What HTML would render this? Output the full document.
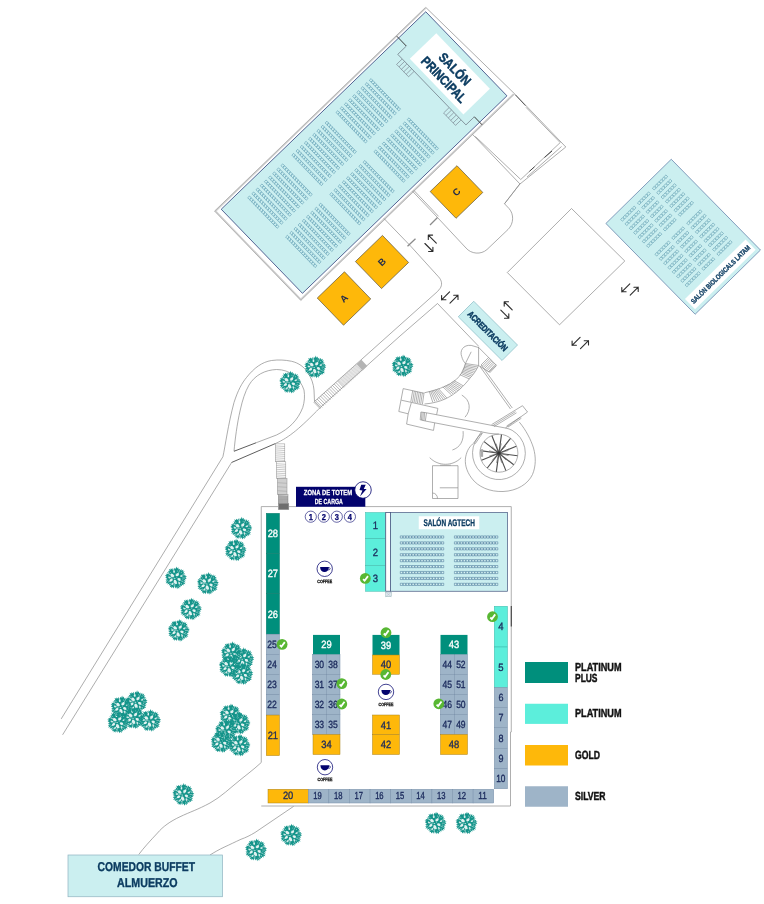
<!DOCTYPE html>
<html><head><meta charset="utf-8"><title>Plano</title>
<style>
html,body{margin:0;padding:0;background:#fff;}
body{width:764px;height:904px;overflow:hidden;font-family:"Liberation Sans",sans-serif;}
svg{display:block;font-family:"Liberation Sans",sans-serif;will-change:transform;text-rendering:geometricPrecision;}
</style></head><body>
<svg width="764" height="904" viewBox="0 0 764 904">
<rect width="764" height="904" fill="#fff"/>
<defs>
<g id="tree"><path d="M10.96,0.55 L8.91,1.23 L10.20,2.33 L7.89,2.54 L9.91,4.18 L8.04,4.25 L9.63,6.22 L7.46,5.80 L8.01,7.43 L5.93,6.56 L6.19,8.18 L4.67,7.43 L4.74,9.24 L3.53,8.67 L3.31,10.72 L1.99,9.26 L1.40,11.17 L0.33,8.87 L-0.53,10.51 L-1.13,8.21 L-2.41,10.53 L-2.86,8.86 L-4.35,10.32 L-4.53,8.58 L-5.92,9.17 L-5.53,7.11 L-7.06,7.61 L-6.18,5.59 L-8.57,6.49 L-7.84,4.92 L-10.14,5.20 L-8.72,3.55 L-10.38,3.20 L-8.58,1.84 L-10.43,1.31 L-8.39,0.31 L-10.70,-0.54 L-9.17,-1.27 L-10.90,-2.49 L-8.97,-2.89 L-10.11,-4.26 L-7.69,-4.07 L-8.85,-5.72 L-6.78,-5.27 L-7.74,-7.18 L-6.05,-6.69 L-6.90,-9.11 L-5.17,-8.24 L-4.96,-9.68 L-3.40,-8.36 L-3.10,-10.04 L-1.76,-8.20 L-1.30,-10.36 L-0.34,-9.08 L0.58,-11.53 L1.30,-9.40 L2.45,-10.71 L2.71,-8.40 L3.95,-9.36 L4.10,-7.76 L5.87,-9.08 L5.63,-7.24 L7.71,-8.31 L6.93,-6.27 L8.79,-6.65 L7.34,-4.61 L9.32,-4.78 L8.04,-3.27 L10.02,-3.09 L9.14,-1.97 L11.12,-1.39 L9.51,-0.35Z" fill="#14948a"/><path d="M-1.61,-1.24 L-3.02,-0.89 L-4.89,-1.37 L-5.13,-3.00 L-4.77,-4.38 L-2.92,-4.05 L-1.85,-2.68Z" fill="#fff" opacity="0.88"/><path d="M-6.39,2.69 L-5.69,1.54 L-4.55,0.61 L-3.33,1.07 L-2.99,1.96 L-3.65,3.09 L-5.43,3.69Z" fill="#fff" opacity="0.88"/><path d="M-0.18,6.04 L-1.35,5.60 L-2.23,3.95 L-1.78,1.85 L-0.16,1.96 L0.87,3.47 L1.33,5.68Z" fill="#fff" opacity="0.88"/><path d="M4.57,1.99 L3.95,3.12 L2.20,2.23 L1.48,1.10 L1.92,0.21 L3.24,0.00 L5.01,0.79Z" fill="#fff" opacity="0.88"/><path d="M2.48,-5.03 L3.27,-4.11 L2.61,-2.34 L1.21,-1.68 L0.09,-2.13 L0.49,-3.72 L1.37,-4.81Z" fill="#fff" opacity="0.88"/><path d="M6.72,-2.41 L6.76,-1.60 L5.61,-1.10 L4.65,-1.28 L4.22,-1.93 L5.02,-2.70 L6.12,-2.86Z" fill="#fff" opacity="0.8"/><path d="M-7.69,-0.60 L-7.09,-1.33 L-5.95,-1.32 L-4.99,-0.98 L-5.01,-0.23 L-5.86,0.38 L-7.10,0.14Z" fill="#fff" opacity="0.8"/><path d="M4.12,5.93 L3.31,6.29 L2.67,5.10 L2.40,4.12 L2.94,3.48 L3.85,4.27 L4.47,5.21Z" fill="#fff" opacity="0.8"/><path d="M-1.89,-5.14 L-2.57,-5.39 L-2.56,-6.71 L-1.85,-7.55 L-1.01,-7.60 L-0.91,-6.35 L-1.15,-5.13Z" fill="#fff" opacity="0.8"/><path d="M-3.88,7.08 L-4.18,6.30 L-3.72,5.27 L-2.87,4.51 L-2.12,4.87 L-2.39,6.04 L-3.05,7.00Z" fill="#fff" opacity="0.8"/><path d="M-0.31,0.61 L-0.55,1.03 L-1.28,0.88 L-1.85,0.37 L-1.59,-0.15 L-0.89,-0.10 L-0.32,0.18Z" fill="#fff" opacity="0.7"/><path d="M1.23,-0.34 L0.81,-0.52 L0.46,-0.80 L0.53,-1.21 L0.82,-1.36 L1.14,-1.16 L1.46,-0.73Z" fill="#fff" opacity="0.6"/><path d="M3.71,1.97L7.95,4.23" stroke="#fff" stroke-width="0.6" opacity="0.7" fill="none"/><path d="M-4.94,2.63L-8.12,4.32" stroke="#fff" stroke-width="0.6" opacity="0.7" fill="none"/><path d="M-1.45,-5.41L-2.33,-8.69" stroke="#fff" stroke-width="0.6" opacity="0.7" fill="none"/><path d="M5.44,-2.54L8.52,-3.97" stroke="#fff" stroke-width="0.6" opacity="0.7" fill="none"/><path d="M-0.81,5.74L-1.28,9.11" stroke="#fff" stroke-width="0.6" opacity="0.7" fill="none"/><path d="M-5.09,-3.18L-7.80,-4.88" stroke="#fff" stroke-width="0.6" opacity="0.7" fill="none"/><path d="M2.35,-4.41L4.32,-8.12" stroke="#fff" stroke-width="0.6" opacity="0.7" fill="none"/><path d="M2.63,4.94L4.32,8.12" stroke="#fff" stroke-width="0.6" opacity="0.7" fill="none"/><path d="M-4.68,-2.70L-7.79,-4.50" stroke="#fff" stroke-width="0.6" opacity="0.7" fill="none"/><path d="M-3.73,5.32L-5.39,7.70" stroke="#fff" stroke-width="0.6" opacity="0.7" fill="none"/><path d="M6.40,0.00L9.40,0.00" stroke="#fff" stroke-width="0.6" opacity="0.7" fill="none"/><path d="M0.17,-1.99L0.40,-4.58" stroke="#fff" stroke-width="0.6" opacity="0.7" fill="none"/><path d="M-2.00,0.00L-4.80,0.00" stroke="#fff" stroke-width="0.6" opacity="0.7" fill="none"/><path d="M7.61,2.02 L7.35,2.25 L6.81,2.21 L6.28,1.89 L6.61,1.61 L7.01,1.45 L7.57,1.67Z" fill="#fff" opacity="0.6"/><path d="M6.19,6.16 L5.69,6.20 L5.12,5.79 L5.08,5.30 L5.29,5.03 L5.76,5.20 L6.24,5.67Z" fill="#fff" opacity="0.6"/><path d="M2.44,9.04 L2.05,8.62 L1.85,8.17 L1.92,7.72 L2.22,7.64 L2.57,7.95 L2.66,8.56Z" fill="#fff" opacity="0.6"/><path d="M-2.04,7.65 L-2.20,7.31 L-2.22,6.81 L-1.89,6.44 L-1.53,6.47 L-1.34,7.00 L-1.65,7.61Z" fill="#fff" opacity="0.6"/><path d="M-6.07,6.10 L-6.15,5.68 L-5.77,5.16 L-5.33,5.15 L-4.89,5.21 L-5.12,5.80 L-5.67,6.24Z" fill="#fff" opacity="0.6"/><path d="M-8.98,2.42 L-8.69,2.02 L-8.16,1.80 L-7.76,1.94 L-7.51,2.23 L-8.01,2.49 L-8.47,2.55Z" fill="#fff" opacity="0.6"/><path d="M-7.63,-2.03 L-7.34,-2.23 L-6.82,-2.20 L-6.55,-1.89 L-6.63,-1.62 L-7.02,-1.52 L-7.46,-1.71Z" fill="#fff" opacity="0.6"/><path d="M-6.06,-6.04 L-5.66,-5.99 L-5.12,-5.79 L-4.99,-5.24 L-5.33,-5.10 L-5.75,-5.23 L-6.10,-5.65Z" fill="#fff" opacity="0.6"/><path d="M-2.38,-8.84 L-2.05,-8.62 L-1.70,-8.16 L-1.79,-7.51 L-2.23,-7.56 L-2.57,-7.95 L-2.56,-8.47Z" fill="#fff" opacity="0.6"/><path d="M2.02,-7.60 L2.27,-7.37 L2.19,-6.83 L1.89,-6.29 L1.60,-6.59 L1.54,-7.02 L1.63,-7.67Z" fill="#fff" opacity="0.6"/><path d="M6.08,-6.10 L6.02,-5.66 L5.76,-5.19 L5.33,-5.16 L4.99,-5.27 L5.08,-5.82 L5.67,-6.24Z" fill="#fff" opacity="0.6"/><path d="M8.95,-2.42 L8.65,-2.04 L8.17,-1.81 L7.74,-1.93 L7.46,-2.23 L7.95,-2.58 L8.59,-2.71Z" fill="#fff" opacity="0.6"/></g>
<g id="chk"><circle r="5.4" fill="#58b733"/><path d="M-2.2,0.8 L-0.7,2.3 L2.7,-2.3" fill="none" stroke="#fff" stroke-width="1.8" stroke-linecap="butt" stroke-linejoin="miter"/></g>
<g id="cof"><circle r="7.7" fill="#fff" stroke="#03036d" stroke-width="0.75"/><path d="M-4.6,-1.9 H4.2 C4.2,1.6 2.2,3.2 -0.2,3.2 C-2.6,3.2 -4.6,1.6 -4.6,-1.9Z" fill="#03036d"/><path d="M4,-1.2 C6,-1.4 6,1.2 3.4,1.2" fill="none" stroke="#03036d" stroke-width="0.7"/><text y="13.9" font-size="4.6" font-weight="bold" fill="#000" stroke="#000" stroke-width="0.25" text-anchor="middle" textLength="14.8" lengthAdjust="spacingAndGlyphs">COFFEE</text></g>
<g id="arr" fill="none" stroke="#2c2c2c" stroke-width="1.1" stroke-linecap="round" stroke-linejoin="round"><path d="M-0.2,-5.7 L-8.2,2.3 M-8.2,-2 V2.3 H-3.9"/><path d="M0.2,5.7 L8.2,-2.3 M8.2,2 V-2.3 H3.9"/></g>
</defs>
<path d="M222.9,456.75 L61.2,718.9 M230.8,463.8 L62.6,734.8" fill="none" stroke="#8a8a8a" stroke-width="0.7"/>
<path d="M222.9,456.75 C225.3,446 228,425 234,402.5 C238,390 242,383 246.5,377.5 C254,368 262,362 271.5,360.5 C279,359.5 285,360 291.5,361.25 C299,363 304,367 307.75,372.5 C311.5,378 313.5,384 314,390 L314.5,401.5" fill="none" stroke="#8a8a8a" stroke-width="0.7"/>
<path d="M234,451.25 C235,440 237,424 240.25,410 C242.5,400 245,392 249,385 C255,375 265,370 276.5,369.5 C290,369.5 300,378 304,390 C305,396 304.5,402 302.75,407.5 C298,420 289,429 276.5,435" fill="none" stroke="#8a8a8a" stroke-width="0.7"/>
<path d="M234,451.25 L256,442.8" fill="none" stroke="#333" stroke-width="0.8"/>
<path d="M256,442.8 L276.5,435" fill="none" stroke="#8a8a8a" stroke-width="0.7"/>
<path d="M231.5,462.5 L275.5,443.5" fill="none" stroke="#333" stroke-width="0.8"/>
<path d="M230.8,463.8 L231.5,462.5 M275.5,443.5 C290,437 300,428 320.25,407.5" fill="none" stroke="#8a8a8a" stroke-width="0.7"/>
<path d="M314.5,401.5 L400,325 L437.5,291.5 M320.25,407.5 L400,336" fill="none" stroke="#8a8a8a" stroke-width="0.7"/>
<path d="M314.5,401.5 L320.25,407.5" fill="none" stroke="#8a8a8a" stroke-width="0.7"/>
<path d="M313.6,402.0 L320.5,409.0 M315.3,400.5 L322.2,407.5 M317.0,399.0 L323.8,405.9 M318.7,397.5 L325.5,404.4 M320.4,396.0 L327.2,402.9 M322.1,394.4 L328.9,401.3 M323.8,392.9 L330.5,399.8 M325.6,391.4 L332.2,398.3 M327.3,389.9 L333.9,396.7 M329.0,388.4 L335.5,395.2 M330.7,386.9 L337.2,393.7 M332.4,385.4 L338.9,392.1 M334.1,383.9 L340.6,390.6 M335.8,382.4 L342.2,389.1 M337.5,380.9 L343.9,387.6" fill="none" stroke="#777" stroke-width="0.5"/>
<path d="M338.2,380.2 L344.6,386.9 M338.9,379.6 L345.3,386.3 M339.6,379.0 L346.0,385.6 M340.3,378.3 L346.7,385.0 M341.0,377.7 L347.4,384.4 M341.7,377.1 L348.1,383.7 M342.5,376.5 L348.8,383.1 M343.2,375.8 L349.4,382.5 M343.9,375.2 L350.1,381.8 M344.6,374.6 L350.8,381.2 M345.3,374.0 L351.5,380.6 M346.0,373.3 L352.2,379.9 M346.7,372.7 L352.9,379.3 M347.4,372.1 L353.6,378.7 M348.1,371.4 L354.3,378.0 M348.8,370.8 L355.0,377.4 M349.5,370.2 L355.7,376.7 M350.2,369.6 L356.4,376.1 M351.0,368.9 L357.1,375.5 M351.7,368.3 L357.8,374.8 M352.4,367.7 L358.5,374.2 M353.1,367.1 L359.2,373.6 M353.8,366.4 L359.8,372.9 M354.5,365.8 L360.5,372.3 M355.2,365.2 L361.2,371.7 M355.9,364.6 L361.9,371.0 M356.6,363.9 L362.6,370.4" fill="none" stroke="#999" stroke-width="0.4"/>
<path d="M356.6,363.9 L361.4,359.7 L367.3,366.1 L362.6,370.4Z" fill="#b4b4b4"/>
<rect x="275.4" y="443.9" width="9.4" height="17.9" fill="#fff" stroke="#8c8c8c" stroke-width="0.5"/>
<path d="M275.4,445.9 L284.8,446.5 M275.4,447.9 L284.8,448.5 M275.4,449.9 L284.8,450.5 M275.4,451.9 L284.8,452.5 M275.4,453.8 L284.8,454.4 M275.4,455.8 L284.8,456.4 M275.4,457.8 L284.8,458.4 M275.4,459.8 L284.8,460.4" fill="none" stroke="#888" stroke-width="0.45"/>
<rect x="276.4" y="461.8" width="9.4" height="16.9" fill="#fff" stroke="#8c8c8c" stroke-width="0.5"/>
<path d="M276.4,463.7 L285.8,464.3 M276.4,465.6 L285.8,466.2 M276.4,467.4 L285.8,468.0 M276.4,469.3 L285.8,469.9 M276.4,471.2 L285.8,471.8 M276.4,473.1 L285.8,473.7 M276.4,474.9 L285.8,475.5 M276.4,476.8 L285.8,477.4" fill="none" stroke="#888" stroke-width="0.45"/>
<rect x="277.4" y="478.7" width="9.6" height="16.0" fill="#cfcfcf" stroke="#8c8c8c" stroke-width="0.5"/>
<path d="M277.4,482.7 L287.0,483.3 M277.4,486.7 L287.0,487.3 M277.4,490.7 L287.0,491.3" fill="none" stroke="#999" stroke-width="0.45"/>
<rect x="278.4" y="494.7" width="9.6" height="8.9" fill="#d8d8d8" stroke="#8c8c8c" stroke-width="0.5"/>
<path d="M278.4,495.7 L288.0,496.3 M278.4,496.7 L288.0,497.3 M278.4,497.7 L288.0,498.3 M278.4,498.7 L288.0,499.3 M278.4,499.6 L288.0,500.2 M278.4,500.6 L288.0,501.2 M278.4,501.6 L288.0,502.2 M278.4,502.6 L288.0,503.2" fill="none" stroke="#666" stroke-width="0.45"/>
<rect x="278.4" y="503.6" width="10.4" height="6.0" fill="#6e6e6e" stroke="#8c8c8c" stroke-width="0.5"/>
<path d="M261.25,762.5 L255,768 C250,772 246,775.5 241,779.25 C230,788 221,797 210,803 C198,809.5 190,812 180,816.75 C170,821.5 163,826.5 157.5,833 C150,841 144,847.5 138.75,854.5" fill="none" stroke="#8a8a8a" stroke-width="0.7"/>
<path d="M293.75,806.25 L255,832.5 C250,835.5 246,837.5 241,839.25 C235,842 230,844.5 225,846.75 C219,849.5 214,852.5 210,855" fill="none" stroke="#8a8a8a" stroke-width="0.7"/>
<g transform="translate(425.75,11.75) rotate(46)">
<path d="M-2.6,-2.6 V289.7 H120.1 V-6" fill="none" stroke="#cfcfcf" stroke-width="1.5"/>
<path d="M-3.3,-3.3 V290.4 H120.9 V-6.9" fill="none" stroke="#888" stroke-width="0.5"/>
<rect x="0" y="0" width="116.9" height="284.3" fill="#cbeff0" stroke="#2f3f7a" stroke-width="0.75"/>
<path d="M11.2,38 V49.7 H109.3 V38" fill="none" stroke="#445" stroke-width="0.5"/>
<path d="M-2.5,37.8 H11.2 M109.3,38 H120.5" fill="none" stroke="#333" stroke-width="0.9"/>
<path d="M17.6,50 V57.5 H34.8 V50 M21.04,50 V57.5 M24.48,50 V57.5 M27.92,50 V57.5 M31.36,50 V57.5" fill="none" stroke="#556" stroke-width="0.45"/>
<path d="M85.2,50 V57.5 H102.4 V50 M88.64,50 V57.5 M92.08,50 V57.5 M95.52,50 V57.5 M98.96,50 V57.5" fill="none" stroke="#556" stroke-width="0.45"/>
<rect x="22.8" y="7.4" width="77.2" height="36.8" fill="#fff"/>
<text x="61.4" y="23.4" font-size="13.2" font-weight="bold" fill="#0c3c61" text-anchor="middle" textLength="39.5" lengthAdjust="spacingAndGlyphs" stroke="#0c3c61" stroke-width="0.5">SALÓN</text>
<text x="61.4" y="38.6" font-size="13.2" font-weight="bold" fill="#0c3c61" text-anchor="middle" textLength="58.5" lengthAdjust="spacingAndGlyphs" stroke="#0c3c61" stroke-width="0.5">PRINCIPAL</text>
<path d="M10.10,85.75h2.4v2.5h-2.4zM12.96,85.75h2.4v2.5h-2.4zM15.82,85.75h2.4v2.5h-2.4zM18.68,85.75h2.4v2.5h-2.4zM21.54,85.75h2.4v2.5h-2.4zM24.40,85.75h2.4v2.5h-2.4zM27.26,85.75h2.4v2.5h-2.4zM30.12,85.75h2.4v2.5h-2.4zM32.98,85.75h2.4v2.5h-2.4zM35.84,85.75h2.4v2.5h-2.4zM38.70,85.75h2.4v2.5h-2.4zM41.56,85.75h2.4v2.5h-2.4zM44.42,85.75h2.4v2.5h-2.4zM47.28,85.75h2.4v2.5h-2.4zM50.14,85.75h2.4v2.5h-2.4zM64.70,85.75h2.4v2.5h-2.4zM67.56,85.75h2.4v2.5h-2.4zM70.42,85.75h2.4v2.5h-2.4zM73.28,85.75h2.4v2.5h-2.4zM76.14,85.75h2.4v2.5h-2.4zM79.00,85.75h2.4v2.5h-2.4zM81.86,85.75h2.4v2.5h-2.4zM84.72,85.75h2.4v2.5h-2.4zM87.58,85.75h2.4v2.5h-2.4zM90.44,85.75h2.4v2.5h-2.4zM93.30,85.75h2.4v2.5h-2.4zM96.16,85.75h2.4v2.5h-2.4zM99.02,85.75h2.4v2.5h-2.4zM101.88,85.75h2.4v2.5h-2.4zM104.74,85.75h2.4v2.5h-2.4zM10.10,91.53h2.4v2.5h-2.4zM12.96,91.53h2.4v2.5h-2.4zM15.82,91.53h2.4v2.5h-2.4zM18.68,91.53h2.4v2.5h-2.4zM21.54,91.53h2.4v2.5h-2.4zM24.40,91.53h2.4v2.5h-2.4zM27.26,91.53h2.4v2.5h-2.4zM30.12,91.53h2.4v2.5h-2.4zM32.98,91.53h2.4v2.5h-2.4zM35.84,91.53h2.4v2.5h-2.4zM38.70,91.53h2.4v2.5h-2.4zM41.56,91.53h2.4v2.5h-2.4zM44.42,91.53h2.4v2.5h-2.4zM47.28,91.53h2.4v2.5h-2.4zM50.14,91.53h2.4v2.5h-2.4zM64.70,91.53h2.4v2.5h-2.4zM67.56,91.53h2.4v2.5h-2.4zM70.42,91.53h2.4v2.5h-2.4zM73.28,91.53h2.4v2.5h-2.4zM76.14,91.53h2.4v2.5h-2.4zM79.00,91.53h2.4v2.5h-2.4zM81.86,91.53h2.4v2.5h-2.4zM84.72,91.53h2.4v2.5h-2.4zM87.58,91.53h2.4v2.5h-2.4zM90.44,91.53h2.4v2.5h-2.4zM93.30,91.53h2.4v2.5h-2.4zM96.16,91.53h2.4v2.5h-2.4zM99.02,91.53h2.4v2.5h-2.4zM101.88,91.53h2.4v2.5h-2.4zM104.74,91.53h2.4v2.5h-2.4zM10.10,97.31h2.4v2.5h-2.4zM12.96,97.31h2.4v2.5h-2.4zM15.82,97.31h2.4v2.5h-2.4zM18.68,97.31h2.4v2.5h-2.4zM21.54,97.31h2.4v2.5h-2.4zM24.40,97.31h2.4v2.5h-2.4zM27.26,97.31h2.4v2.5h-2.4zM30.12,97.31h2.4v2.5h-2.4zM32.98,97.31h2.4v2.5h-2.4zM35.84,97.31h2.4v2.5h-2.4zM38.70,97.31h2.4v2.5h-2.4zM41.56,97.31h2.4v2.5h-2.4zM44.42,97.31h2.4v2.5h-2.4zM47.28,97.31h2.4v2.5h-2.4zM50.14,97.31h2.4v2.5h-2.4zM64.70,97.31h2.4v2.5h-2.4zM67.56,97.31h2.4v2.5h-2.4zM70.42,97.31h2.4v2.5h-2.4zM73.28,97.31h2.4v2.5h-2.4zM76.14,97.31h2.4v2.5h-2.4zM79.00,97.31h2.4v2.5h-2.4zM81.86,97.31h2.4v2.5h-2.4zM84.72,97.31h2.4v2.5h-2.4zM87.58,97.31h2.4v2.5h-2.4zM90.44,97.31h2.4v2.5h-2.4zM93.30,97.31h2.4v2.5h-2.4zM96.16,97.31h2.4v2.5h-2.4zM99.02,97.31h2.4v2.5h-2.4zM101.88,97.31h2.4v2.5h-2.4zM104.74,97.31h2.4v2.5h-2.4zM10.10,103.09h2.4v2.5h-2.4zM12.96,103.09h2.4v2.5h-2.4zM15.82,103.09h2.4v2.5h-2.4zM18.68,103.09h2.4v2.5h-2.4zM21.54,103.09h2.4v2.5h-2.4zM24.40,103.09h2.4v2.5h-2.4zM27.26,103.09h2.4v2.5h-2.4zM30.12,103.09h2.4v2.5h-2.4zM32.98,103.09h2.4v2.5h-2.4zM35.84,103.09h2.4v2.5h-2.4zM38.70,103.09h2.4v2.5h-2.4zM41.56,103.09h2.4v2.5h-2.4zM44.42,103.09h2.4v2.5h-2.4zM47.28,103.09h2.4v2.5h-2.4zM50.14,103.09h2.4v2.5h-2.4zM64.70,103.09h2.4v2.5h-2.4zM67.56,103.09h2.4v2.5h-2.4zM70.42,103.09h2.4v2.5h-2.4zM73.28,103.09h2.4v2.5h-2.4zM76.14,103.09h2.4v2.5h-2.4zM79.00,103.09h2.4v2.5h-2.4zM81.86,103.09h2.4v2.5h-2.4zM84.72,103.09h2.4v2.5h-2.4zM87.58,103.09h2.4v2.5h-2.4zM90.44,103.09h2.4v2.5h-2.4zM93.30,103.09h2.4v2.5h-2.4zM96.16,103.09h2.4v2.5h-2.4zM99.02,103.09h2.4v2.5h-2.4zM101.88,103.09h2.4v2.5h-2.4zM104.74,103.09h2.4v2.5h-2.4zM10.10,108.87h2.4v2.5h-2.4zM12.96,108.87h2.4v2.5h-2.4zM15.82,108.87h2.4v2.5h-2.4zM18.68,108.87h2.4v2.5h-2.4zM21.54,108.87h2.4v2.5h-2.4zM24.40,108.87h2.4v2.5h-2.4zM27.26,108.87h2.4v2.5h-2.4zM30.12,108.87h2.4v2.5h-2.4zM32.98,108.87h2.4v2.5h-2.4zM35.84,108.87h2.4v2.5h-2.4zM38.70,108.87h2.4v2.5h-2.4zM41.56,108.87h2.4v2.5h-2.4zM44.42,108.87h2.4v2.5h-2.4zM47.28,108.87h2.4v2.5h-2.4zM50.14,108.87h2.4v2.5h-2.4zM64.70,108.87h2.4v2.5h-2.4zM67.56,108.87h2.4v2.5h-2.4zM70.42,108.87h2.4v2.5h-2.4zM73.28,108.87h2.4v2.5h-2.4zM76.14,108.87h2.4v2.5h-2.4zM79.00,108.87h2.4v2.5h-2.4zM81.86,108.87h2.4v2.5h-2.4zM84.72,108.87h2.4v2.5h-2.4zM87.58,108.87h2.4v2.5h-2.4zM90.44,108.87h2.4v2.5h-2.4zM93.30,108.87h2.4v2.5h-2.4zM96.16,108.87h2.4v2.5h-2.4zM99.02,108.87h2.4v2.5h-2.4zM101.88,108.87h2.4v2.5h-2.4zM104.74,108.87h2.4v2.5h-2.4zM10.10,114.65h2.4v2.5h-2.4zM12.96,114.65h2.4v2.5h-2.4zM15.82,114.65h2.4v2.5h-2.4zM18.68,114.65h2.4v2.5h-2.4zM21.54,114.65h2.4v2.5h-2.4zM24.40,114.65h2.4v2.5h-2.4zM27.26,114.65h2.4v2.5h-2.4zM30.12,114.65h2.4v2.5h-2.4zM32.98,114.65h2.4v2.5h-2.4zM35.84,114.65h2.4v2.5h-2.4zM38.70,114.65h2.4v2.5h-2.4zM41.56,114.65h2.4v2.5h-2.4zM44.42,114.65h2.4v2.5h-2.4zM47.28,114.65h2.4v2.5h-2.4zM50.14,114.65h2.4v2.5h-2.4zM64.70,114.65h2.4v2.5h-2.4zM67.56,114.65h2.4v2.5h-2.4zM70.42,114.65h2.4v2.5h-2.4zM73.28,114.65h2.4v2.5h-2.4zM76.14,114.65h2.4v2.5h-2.4zM79.00,114.65h2.4v2.5h-2.4zM81.86,114.65h2.4v2.5h-2.4zM84.72,114.65h2.4v2.5h-2.4zM87.58,114.65h2.4v2.5h-2.4zM90.44,114.65h2.4v2.5h-2.4zM93.30,114.65h2.4v2.5h-2.4zM96.16,114.65h2.4v2.5h-2.4zM99.02,114.65h2.4v2.5h-2.4zM101.88,114.65h2.4v2.5h-2.4zM104.74,114.65h2.4v2.5h-2.4zM10.10,120.43h2.4v2.5h-2.4zM12.96,120.43h2.4v2.5h-2.4zM15.82,120.43h2.4v2.5h-2.4zM18.68,120.43h2.4v2.5h-2.4zM21.54,120.43h2.4v2.5h-2.4zM24.40,120.43h2.4v2.5h-2.4zM27.26,120.43h2.4v2.5h-2.4zM30.12,120.43h2.4v2.5h-2.4zM32.98,120.43h2.4v2.5h-2.4zM35.84,120.43h2.4v2.5h-2.4zM38.70,120.43h2.4v2.5h-2.4zM41.56,120.43h2.4v2.5h-2.4zM44.42,120.43h2.4v2.5h-2.4zM47.28,120.43h2.4v2.5h-2.4zM50.14,120.43h2.4v2.5h-2.4zM64.70,120.43h2.4v2.5h-2.4zM67.56,120.43h2.4v2.5h-2.4zM70.42,120.43h2.4v2.5h-2.4zM73.28,120.43h2.4v2.5h-2.4zM76.14,120.43h2.4v2.5h-2.4zM79.00,120.43h2.4v2.5h-2.4zM81.86,120.43h2.4v2.5h-2.4zM84.72,120.43h2.4v2.5h-2.4zM87.58,120.43h2.4v2.5h-2.4zM90.44,120.43h2.4v2.5h-2.4zM93.30,120.43h2.4v2.5h-2.4zM96.16,120.43h2.4v2.5h-2.4zM99.02,120.43h2.4v2.5h-2.4zM101.88,120.43h2.4v2.5h-2.4zM104.74,120.43h2.4v2.5h-2.4zM10.10,126.21h2.4v2.5h-2.4zM12.96,126.21h2.4v2.5h-2.4zM15.82,126.21h2.4v2.5h-2.4zM18.68,126.21h2.4v2.5h-2.4zM21.54,126.21h2.4v2.5h-2.4zM24.40,126.21h2.4v2.5h-2.4zM27.26,126.21h2.4v2.5h-2.4zM30.12,126.21h2.4v2.5h-2.4zM32.98,126.21h2.4v2.5h-2.4zM35.84,126.21h2.4v2.5h-2.4zM38.70,126.21h2.4v2.5h-2.4zM41.56,126.21h2.4v2.5h-2.4zM44.42,126.21h2.4v2.5h-2.4zM47.28,126.21h2.4v2.5h-2.4zM50.14,126.21h2.4v2.5h-2.4zM64.70,126.21h2.4v2.5h-2.4zM67.56,126.21h2.4v2.5h-2.4zM70.42,126.21h2.4v2.5h-2.4zM73.28,126.21h2.4v2.5h-2.4zM76.14,126.21h2.4v2.5h-2.4zM79.00,126.21h2.4v2.5h-2.4zM81.86,126.21h2.4v2.5h-2.4zM84.72,126.21h2.4v2.5h-2.4zM87.58,126.21h2.4v2.5h-2.4zM90.44,126.21h2.4v2.5h-2.4zM93.30,126.21h2.4v2.5h-2.4zM96.16,126.21h2.4v2.5h-2.4zM99.02,126.21h2.4v2.5h-2.4zM101.88,126.21h2.4v2.5h-2.4zM104.74,126.21h2.4v2.5h-2.4zM10.10,131.99h2.4v2.5h-2.4zM12.96,131.99h2.4v2.5h-2.4zM15.82,131.99h2.4v2.5h-2.4zM18.68,131.99h2.4v2.5h-2.4zM21.54,131.99h2.4v2.5h-2.4zM24.40,131.99h2.4v2.5h-2.4zM27.26,131.99h2.4v2.5h-2.4zM30.12,131.99h2.4v2.5h-2.4zM32.98,131.99h2.4v2.5h-2.4zM35.84,131.99h2.4v2.5h-2.4zM38.70,131.99h2.4v2.5h-2.4zM41.56,131.99h2.4v2.5h-2.4zM44.42,131.99h2.4v2.5h-2.4zM47.28,131.99h2.4v2.5h-2.4zM50.14,131.99h2.4v2.5h-2.4zM64.70,131.99h2.4v2.5h-2.4zM67.56,131.99h2.4v2.5h-2.4zM70.42,131.99h2.4v2.5h-2.4zM73.28,131.99h2.4v2.5h-2.4zM76.14,131.99h2.4v2.5h-2.4zM79.00,131.99h2.4v2.5h-2.4zM81.86,131.99h2.4v2.5h-2.4zM84.72,131.99h2.4v2.5h-2.4zM87.58,131.99h2.4v2.5h-2.4zM90.44,131.99h2.4v2.5h-2.4zM93.30,131.99h2.4v2.5h-2.4zM96.16,131.99h2.4v2.5h-2.4zM99.02,131.99h2.4v2.5h-2.4zM101.88,131.99h2.4v2.5h-2.4zM104.74,131.99h2.4v2.5h-2.4zM10.10,147.15h2.4v2.5h-2.4zM12.96,147.15h2.4v2.5h-2.4zM15.82,147.15h2.4v2.5h-2.4zM18.68,147.15h2.4v2.5h-2.4zM21.54,147.15h2.4v2.5h-2.4zM24.40,147.15h2.4v2.5h-2.4zM27.26,147.15h2.4v2.5h-2.4zM30.12,147.15h2.4v2.5h-2.4zM32.98,147.15h2.4v2.5h-2.4zM35.84,147.15h2.4v2.5h-2.4zM38.70,147.15h2.4v2.5h-2.4zM41.56,147.15h2.4v2.5h-2.4zM44.42,147.15h2.4v2.5h-2.4zM47.28,147.15h2.4v2.5h-2.4zM50.14,147.15h2.4v2.5h-2.4zM64.70,147.15h2.4v2.5h-2.4zM67.56,147.15h2.4v2.5h-2.4zM70.42,147.15h2.4v2.5h-2.4zM73.28,147.15h2.4v2.5h-2.4zM76.14,147.15h2.4v2.5h-2.4zM79.00,147.15h2.4v2.5h-2.4zM81.86,147.15h2.4v2.5h-2.4zM84.72,147.15h2.4v2.5h-2.4zM87.58,147.15h2.4v2.5h-2.4zM90.44,147.15h2.4v2.5h-2.4zM93.30,147.15h2.4v2.5h-2.4zM96.16,147.15h2.4v2.5h-2.4zM99.02,147.15h2.4v2.5h-2.4zM101.88,147.15h2.4v2.5h-2.4zM104.74,147.15h2.4v2.5h-2.4zM10.10,152.93h2.4v2.5h-2.4zM12.96,152.93h2.4v2.5h-2.4zM15.82,152.93h2.4v2.5h-2.4zM18.68,152.93h2.4v2.5h-2.4zM21.54,152.93h2.4v2.5h-2.4zM24.40,152.93h2.4v2.5h-2.4zM27.26,152.93h2.4v2.5h-2.4zM30.12,152.93h2.4v2.5h-2.4zM32.98,152.93h2.4v2.5h-2.4zM35.84,152.93h2.4v2.5h-2.4zM38.70,152.93h2.4v2.5h-2.4zM41.56,152.93h2.4v2.5h-2.4zM44.42,152.93h2.4v2.5h-2.4zM47.28,152.93h2.4v2.5h-2.4zM50.14,152.93h2.4v2.5h-2.4zM64.70,152.93h2.4v2.5h-2.4zM67.56,152.93h2.4v2.5h-2.4zM70.42,152.93h2.4v2.5h-2.4zM73.28,152.93h2.4v2.5h-2.4zM76.14,152.93h2.4v2.5h-2.4zM79.00,152.93h2.4v2.5h-2.4zM81.86,152.93h2.4v2.5h-2.4zM84.72,152.93h2.4v2.5h-2.4zM87.58,152.93h2.4v2.5h-2.4zM90.44,152.93h2.4v2.5h-2.4zM93.30,152.93h2.4v2.5h-2.4zM96.16,152.93h2.4v2.5h-2.4zM99.02,152.93h2.4v2.5h-2.4zM101.88,152.93h2.4v2.5h-2.4zM104.74,152.93h2.4v2.5h-2.4zM10.10,158.71h2.4v2.5h-2.4zM12.96,158.71h2.4v2.5h-2.4zM15.82,158.71h2.4v2.5h-2.4zM18.68,158.71h2.4v2.5h-2.4zM21.54,158.71h2.4v2.5h-2.4zM24.40,158.71h2.4v2.5h-2.4zM27.26,158.71h2.4v2.5h-2.4zM30.12,158.71h2.4v2.5h-2.4zM32.98,158.71h2.4v2.5h-2.4zM35.84,158.71h2.4v2.5h-2.4zM38.70,158.71h2.4v2.5h-2.4zM41.56,158.71h2.4v2.5h-2.4zM44.42,158.71h2.4v2.5h-2.4zM47.28,158.71h2.4v2.5h-2.4zM50.14,158.71h2.4v2.5h-2.4zM64.70,158.71h2.4v2.5h-2.4zM67.56,158.71h2.4v2.5h-2.4zM70.42,158.71h2.4v2.5h-2.4zM73.28,158.71h2.4v2.5h-2.4zM76.14,158.71h2.4v2.5h-2.4zM79.00,158.71h2.4v2.5h-2.4zM81.86,158.71h2.4v2.5h-2.4zM84.72,158.71h2.4v2.5h-2.4zM87.58,158.71h2.4v2.5h-2.4zM90.44,158.71h2.4v2.5h-2.4zM93.30,158.71h2.4v2.5h-2.4zM96.16,158.71h2.4v2.5h-2.4zM99.02,158.71h2.4v2.5h-2.4zM101.88,158.71h2.4v2.5h-2.4zM104.74,158.71h2.4v2.5h-2.4zM10.10,164.49h2.4v2.5h-2.4zM12.96,164.49h2.4v2.5h-2.4zM15.82,164.49h2.4v2.5h-2.4zM18.68,164.49h2.4v2.5h-2.4zM21.54,164.49h2.4v2.5h-2.4zM24.40,164.49h2.4v2.5h-2.4zM27.26,164.49h2.4v2.5h-2.4zM30.12,164.49h2.4v2.5h-2.4zM32.98,164.49h2.4v2.5h-2.4zM35.84,164.49h2.4v2.5h-2.4zM38.70,164.49h2.4v2.5h-2.4zM41.56,164.49h2.4v2.5h-2.4zM44.42,164.49h2.4v2.5h-2.4zM47.28,164.49h2.4v2.5h-2.4zM50.14,164.49h2.4v2.5h-2.4zM64.70,164.49h2.4v2.5h-2.4zM67.56,164.49h2.4v2.5h-2.4zM70.42,164.49h2.4v2.5h-2.4zM73.28,164.49h2.4v2.5h-2.4zM76.14,164.49h2.4v2.5h-2.4zM79.00,164.49h2.4v2.5h-2.4zM81.86,164.49h2.4v2.5h-2.4zM84.72,164.49h2.4v2.5h-2.4zM87.58,164.49h2.4v2.5h-2.4zM90.44,164.49h2.4v2.5h-2.4zM93.30,164.49h2.4v2.5h-2.4zM96.16,164.49h2.4v2.5h-2.4zM99.02,164.49h2.4v2.5h-2.4zM101.88,164.49h2.4v2.5h-2.4zM104.74,164.49h2.4v2.5h-2.4zM10.10,170.27h2.4v2.5h-2.4zM12.96,170.27h2.4v2.5h-2.4zM15.82,170.27h2.4v2.5h-2.4zM18.68,170.27h2.4v2.5h-2.4zM21.54,170.27h2.4v2.5h-2.4zM24.40,170.27h2.4v2.5h-2.4zM27.26,170.27h2.4v2.5h-2.4zM30.12,170.27h2.4v2.5h-2.4zM32.98,170.27h2.4v2.5h-2.4zM35.84,170.27h2.4v2.5h-2.4zM38.70,170.27h2.4v2.5h-2.4zM41.56,170.27h2.4v2.5h-2.4zM44.42,170.27h2.4v2.5h-2.4zM47.28,170.27h2.4v2.5h-2.4zM50.14,170.27h2.4v2.5h-2.4zM64.70,170.27h2.4v2.5h-2.4zM67.56,170.27h2.4v2.5h-2.4zM70.42,170.27h2.4v2.5h-2.4zM73.28,170.27h2.4v2.5h-2.4zM76.14,170.27h2.4v2.5h-2.4zM79.00,170.27h2.4v2.5h-2.4zM81.86,170.27h2.4v2.5h-2.4zM84.72,170.27h2.4v2.5h-2.4zM87.58,170.27h2.4v2.5h-2.4zM90.44,170.27h2.4v2.5h-2.4zM93.30,170.27h2.4v2.5h-2.4zM96.16,170.27h2.4v2.5h-2.4zM99.02,170.27h2.4v2.5h-2.4zM101.88,170.27h2.4v2.5h-2.4zM104.74,170.27h2.4v2.5h-2.4zM10.10,176.05h2.4v2.5h-2.4zM12.96,176.05h2.4v2.5h-2.4zM15.82,176.05h2.4v2.5h-2.4zM18.68,176.05h2.4v2.5h-2.4zM21.54,176.05h2.4v2.5h-2.4zM24.40,176.05h2.4v2.5h-2.4zM27.26,176.05h2.4v2.5h-2.4zM30.12,176.05h2.4v2.5h-2.4zM32.98,176.05h2.4v2.5h-2.4zM35.84,176.05h2.4v2.5h-2.4zM38.70,176.05h2.4v2.5h-2.4zM41.56,176.05h2.4v2.5h-2.4zM44.42,176.05h2.4v2.5h-2.4zM47.28,176.05h2.4v2.5h-2.4zM50.14,176.05h2.4v2.5h-2.4zM64.70,176.05h2.4v2.5h-2.4zM67.56,176.05h2.4v2.5h-2.4zM70.42,176.05h2.4v2.5h-2.4zM73.28,176.05h2.4v2.5h-2.4zM76.14,176.05h2.4v2.5h-2.4zM79.00,176.05h2.4v2.5h-2.4zM81.86,176.05h2.4v2.5h-2.4zM84.72,176.05h2.4v2.5h-2.4zM87.58,176.05h2.4v2.5h-2.4zM90.44,176.05h2.4v2.5h-2.4zM93.30,176.05h2.4v2.5h-2.4zM96.16,176.05h2.4v2.5h-2.4zM99.02,176.05h2.4v2.5h-2.4zM101.88,176.05h2.4v2.5h-2.4zM104.74,176.05h2.4v2.5h-2.4zM10.10,181.83h2.4v2.5h-2.4zM12.96,181.83h2.4v2.5h-2.4zM15.82,181.83h2.4v2.5h-2.4zM18.68,181.83h2.4v2.5h-2.4zM21.54,181.83h2.4v2.5h-2.4zM24.40,181.83h2.4v2.5h-2.4zM27.26,181.83h2.4v2.5h-2.4zM30.12,181.83h2.4v2.5h-2.4zM32.98,181.83h2.4v2.5h-2.4zM35.84,181.83h2.4v2.5h-2.4zM38.70,181.83h2.4v2.5h-2.4zM41.56,181.83h2.4v2.5h-2.4zM44.42,181.83h2.4v2.5h-2.4zM47.28,181.83h2.4v2.5h-2.4zM50.14,181.83h2.4v2.5h-2.4zM64.70,181.83h2.4v2.5h-2.4zM67.56,181.83h2.4v2.5h-2.4zM70.42,181.83h2.4v2.5h-2.4zM73.28,181.83h2.4v2.5h-2.4zM76.14,181.83h2.4v2.5h-2.4zM79.00,181.83h2.4v2.5h-2.4zM81.86,181.83h2.4v2.5h-2.4zM84.72,181.83h2.4v2.5h-2.4zM87.58,181.83h2.4v2.5h-2.4zM90.44,181.83h2.4v2.5h-2.4zM93.30,181.83h2.4v2.5h-2.4zM96.16,181.83h2.4v2.5h-2.4zM99.02,181.83h2.4v2.5h-2.4zM101.88,181.83h2.4v2.5h-2.4zM104.74,181.83h2.4v2.5h-2.4zM10.10,187.61h2.4v2.5h-2.4zM12.96,187.61h2.4v2.5h-2.4zM15.82,187.61h2.4v2.5h-2.4zM18.68,187.61h2.4v2.5h-2.4zM21.54,187.61h2.4v2.5h-2.4zM24.40,187.61h2.4v2.5h-2.4zM27.26,187.61h2.4v2.5h-2.4zM30.12,187.61h2.4v2.5h-2.4zM32.98,187.61h2.4v2.5h-2.4zM35.84,187.61h2.4v2.5h-2.4zM38.70,187.61h2.4v2.5h-2.4zM41.56,187.61h2.4v2.5h-2.4zM44.42,187.61h2.4v2.5h-2.4zM47.28,187.61h2.4v2.5h-2.4zM50.14,187.61h2.4v2.5h-2.4zM64.70,187.61h2.4v2.5h-2.4zM67.56,187.61h2.4v2.5h-2.4zM70.42,187.61h2.4v2.5h-2.4zM73.28,187.61h2.4v2.5h-2.4zM76.14,187.61h2.4v2.5h-2.4zM79.00,187.61h2.4v2.5h-2.4zM81.86,187.61h2.4v2.5h-2.4zM84.72,187.61h2.4v2.5h-2.4zM87.58,187.61h2.4v2.5h-2.4zM90.44,187.61h2.4v2.5h-2.4zM93.30,187.61h2.4v2.5h-2.4zM96.16,187.61h2.4v2.5h-2.4zM99.02,187.61h2.4v2.5h-2.4zM101.88,187.61h2.4v2.5h-2.4zM104.74,187.61h2.4v2.5h-2.4zM10.10,193.39h2.4v2.5h-2.4zM12.96,193.39h2.4v2.5h-2.4zM15.82,193.39h2.4v2.5h-2.4zM18.68,193.39h2.4v2.5h-2.4zM21.54,193.39h2.4v2.5h-2.4zM24.40,193.39h2.4v2.5h-2.4zM27.26,193.39h2.4v2.5h-2.4zM30.12,193.39h2.4v2.5h-2.4zM32.98,193.39h2.4v2.5h-2.4zM35.84,193.39h2.4v2.5h-2.4zM38.70,193.39h2.4v2.5h-2.4zM41.56,193.39h2.4v2.5h-2.4zM44.42,193.39h2.4v2.5h-2.4zM47.28,193.39h2.4v2.5h-2.4zM50.14,193.39h2.4v2.5h-2.4zM64.70,193.39h2.4v2.5h-2.4zM67.56,193.39h2.4v2.5h-2.4zM70.42,193.39h2.4v2.5h-2.4zM73.28,193.39h2.4v2.5h-2.4zM76.14,193.39h2.4v2.5h-2.4zM79.00,193.39h2.4v2.5h-2.4zM81.86,193.39h2.4v2.5h-2.4zM84.72,193.39h2.4v2.5h-2.4zM87.58,193.39h2.4v2.5h-2.4zM90.44,193.39h2.4v2.5h-2.4zM93.30,193.39h2.4v2.5h-2.4zM96.16,193.39h2.4v2.5h-2.4zM99.02,193.39h2.4v2.5h-2.4zM101.88,193.39h2.4v2.5h-2.4zM104.74,193.39h2.4v2.5h-2.4zM10.10,208.55h2.4v2.5h-2.4zM12.96,208.55h2.4v2.5h-2.4zM15.82,208.55h2.4v2.5h-2.4zM18.68,208.55h2.4v2.5h-2.4zM21.54,208.55h2.4v2.5h-2.4zM24.40,208.55h2.4v2.5h-2.4zM27.26,208.55h2.4v2.5h-2.4zM30.12,208.55h2.4v2.5h-2.4zM32.98,208.55h2.4v2.5h-2.4zM35.84,208.55h2.4v2.5h-2.4zM38.70,208.55h2.4v2.5h-2.4zM41.56,208.55h2.4v2.5h-2.4zM44.42,208.55h2.4v2.5h-2.4zM47.28,208.55h2.4v2.5h-2.4zM50.14,208.55h2.4v2.5h-2.4zM64.70,208.55h2.4v2.5h-2.4zM67.56,208.55h2.4v2.5h-2.4zM70.42,208.55h2.4v2.5h-2.4zM73.28,208.55h2.4v2.5h-2.4zM76.14,208.55h2.4v2.5h-2.4zM79.00,208.55h2.4v2.5h-2.4zM81.86,208.55h2.4v2.5h-2.4zM84.72,208.55h2.4v2.5h-2.4zM87.58,208.55h2.4v2.5h-2.4zM90.44,208.55h2.4v2.5h-2.4zM93.30,208.55h2.4v2.5h-2.4zM96.16,208.55h2.4v2.5h-2.4zM99.02,208.55h2.4v2.5h-2.4zM101.88,208.55h2.4v2.5h-2.4zM104.74,208.55h2.4v2.5h-2.4zM10.10,214.33h2.4v2.5h-2.4zM12.96,214.33h2.4v2.5h-2.4zM15.82,214.33h2.4v2.5h-2.4zM18.68,214.33h2.4v2.5h-2.4zM21.54,214.33h2.4v2.5h-2.4zM24.40,214.33h2.4v2.5h-2.4zM27.26,214.33h2.4v2.5h-2.4zM30.12,214.33h2.4v2.5h-2.4zM32.98,214.33h2.4v2.5h-2.4zM35.84,214.33h2.4v2.5h-2.4zM38.70,214.33h2.4v2.5h-2.4zM41.56,214.33h2.4v2.5h-2.4zM44.42,214.33h2.4v2.5h-2.4zM47.28,214.33h2.4v2.5h-2.4zM50.14,214.33h2.4v2.5h-2.4zM64.70,214.33h2.4v2.5h-2.4zM67.56,214.33h2.4v2.5h-2.4zM70.42,214.33h2.4v2.5h-2.4zM73.28,214.33h2.4v2.5h-2.4zM76.14,214.33h2.4v2.5h-2.4zM79.00,214.33h2.4v2.5h-2.4zM81.86,214.33h2.4v2.5h-2.4zM84.72,214.33h2.4v2.5h-2.4zM87.58,214.33h2.4v2.5h-2.4zM90.44,214.33h2.4v2.5h-2.4zM93.30,214.33h2.4v2.5h-2.4zM96.16,214.33h2.4v2.5h-2.4zM99.02,214.33h2.4v2.5h-2.4zM101.88,214.33h2.4v2.5h-2.4zM104.74,214.33h2.4v2.5h-2.4zM10.10,220.11h2.4v2.5h-2.4zM12.96,220.11h2.4v2.5h-2.4zM15.82,220.11h2.4v2.5h-2.4zM18.68,220.11h2.4v2.5h-2.4zM21.54,220.11h2.4v2.5h-2.4zM24.40,220.11h2.4v2.5h-2.4zM27.26,220.11h2.4v2.5h-2.4zM30.12,220.11h2.4v2.5h-2.4zM32.98,220.11h2.4v2.5h-2.4zM35.84,220.11h2.4v2.5h-2.4zM38.70,220.11h2.4v2.5h-2.4zM41.56,220.11h2.4v2.5h-2.4zM44.42,220.11h2.4v2.5h-2.4zM47.28,220.11h2.4v2.5h-2.4zM50.14,220.11h2.4v2.5h-2.4zM64.70,220.11h2.4v2.5h-2.4zM67.56,220.11h2.4v2.5h-2.4zM70.42,220.11h2.4v2.5h-2.4zM73.28,220.11h2.4v2.5h-2.4zM76.14,220.11h2.4v2.5h-2.4zM79.00,220.11h2.4v2.5h-2.4zM81.86,220.11h2.4v2.5h-2.4zM84.72,220.11h2.4v2.5h-2.4zM87.58,220.11h2.4v2.5h-2.4zM90.44,220.11h2.4v2.5h-2.4zM93.30,220.11h2.4v2.5h-2.4zM96.16,220.11h2.4v2.5h-2.4zM99.02,220.11h2.4v2.5h-2.4zM101.88,220.11h2.4v2.5h-2.4zM104.74,220.11h2.4v2.5h-2.4zM10.10,225.89h2.4v2.5h-2.4zM12.96,225.89h2.4v2.5h-2.4zM15.82,225.89h2.4v2.5h-2.4zM18.68,225.89h2.4v2.5h-2.4zM21.54,225.89h2.4v2.5h-2.4zM24.40,225.89h2.4v2.5h-2.4zM27.26,225.89h2.4v2.5h-2.4zM30.12,225.89h2.4v2.5h-2.4zM32.98,225.89h2.4v2.5h-2.4zM35.84,225.89h2.4v2.5h-2.4zM38.70,225.89h2.4v2.5h-2.4zM41.56,225.89h2.4v2.5h-2.4zM44.42,225.89h2.4v2.5h-2.4zM47.28,225.89h2.4v2.5h-2.4zM50.14,225.89h2.4v2.5h-2.4zM64.70,225.89h2.4v2.5h-2.4zM67.56,225.89h2.4v2.5h-2.4zM70.42,225.89h2.4v2.5h-2.4zM73.28,225.89h2.4v2.5h-2.4zM76.14,225.89h2.4v2.5h-2.4zM79.00,225.89h2.4v2.5h-2.4zM81.86,225.89h2.4v2.5h-2.4zM84.72,225.89h2.4v2.5h-2.4zM87.58,225.89h2.4v2.5h-2.4zM90.44,225.89h2.4v2.5h-2.4zM93.30,225.89h2.4v2.5h-2.4zM96.16,225.89h2.4v2.5h-2.4zM99.02,225.89h2.4v2.5h-2.4zM101.88,225.89h2.4v2.5h-2.4zM104.74,225.89h2.4v2.5h-2.4zM10.10,231.67h2.4v2.5h-2.4zM12.96,231.67h2.4v2.5h-2.4zM15.82,231.67h2.4v2.5h-2.4zM18.68,231.67h2.4v2.5h-2.4zM21.54,231.67h2.4v2.5h-2.4zM24.40,231.67h2.4v2.5h-2.4zM27.26,231.67h2.4v2.5h-2.4zM30.12,231.67h2.4v2.5h-2.4zM32.98,231.67h2.4v2.5h-2.4zM35.84,231.67h2.4v2.5h-2.4zM38.70,231.67h2.4v2.5h-2.4zM41.56,231.67h2.4v2.5h-2.4zM44.42,231.67h2.4v2.5h-2.4zM47.28,231.67h2.4v2.5h-2.4zM50.14,231.67h2.4v2.5h-2.4zM64.70,231.67h2.4v2.5h-2.4zM67.56,231.67h2.4v2.5h-2.4zM70.42,231.67h2.4v2.5h-2.4zM73.28,231.67h2.4v2.5h-2.4zM76.14,231.67h2.4v2.5h-2.4zM79.00,231.67h2.4v2.5h-2.4zM81.86,231.67h2.4v2.5h-2.4zM84.72,231.67h2.4v2.5h-2.4zM87.58,231.67h2.4v2.5h-2.4zM90.44,231.67h2.4v2.5h-2.4zM93.30,231.67h2.4v2.5h-2.4zM96.16,231.67h2.4v2.5h-2.4zM99.02,231.67h2.4v2.5h-2.4zM101.88,231.67h2.4v2.5h-2.4zM104.74,231.67h2.4v2.5h-2.4zM10.10,237.45h2.4v2.5h-2.4zM12.96,237.45h2.4v2.5h-2.4zM15.82,237.45h2.4v2.5h-2.4zM18.68,237.45h2.4v2.5h-2.4zM21.54,237.45h2.4v2.5h-2.4zM24.40,237.45h2.4v2.5h-2.4zM27.26,237.45h2.4v2.5h-2.4zM30.12,237.45h2.4v2.5h-2.4zM32.98,237.45h2.4v2.5h-2.4zM35.84,237.45h2.4v2.5h-2.4zM38.70,237.45h2.4v2.5h-2.4zM41.56,237.45h2.4v2.5h-2.4zM44.42,237.45h2.4v2.5h-2.4zM47.28,237.45h2.4v2.5h-2.4zM50.14,237.45h2.4v2.5h-2.4zM64.70,237.45h2.4v2.5h-2.4zM67.56,237.45h2.4v2.5h-2.4zM70.42,237.45h2.4v2.5h-2.4zM73.28,237.45h2.4v2.5h-2.4zM76.14,237.45h2.4v2.5h-2.4zM79.00,237.45h2.4v2.5h-2.4zM81.86,237.45h2.4v2.5h-2.4zM84.72,237.45h2.4v2.5h-2.4zM87.58,237.45h2.4v2.5h-2.4zM90.44,237.45h2.4v2.5h-2.4zM93.30,237.45h2.4v2.5h-2.4zM96.16,237.45h2.4v2.5h-2.4zM99.02,237.45h2.4v2.5h-2.4zM101.88,237.45h2.4v2.5h-2.4zM104.74,237.45h2.4v2.5h-2.4zM10.10,243.23h2.4v2.5h-2.4zM12.96,243.23h2.4v2.5h-2.4zM15.82,243.23h2.4v2.5h-2.4zM18.68,243.23h2.4v2.5h-2.4zM21.54,243.23h2.4v2.5h-2.4zM24.40,243.23h2.4v2.5h-2.4zM27.26,243.23h2.4v2.5h-2.4zM30.12,243.23h2.4v2.5h-2.4zM32.98,243.23h2.4v2.5h-2.4zM35.84,243.23h2.4v2.5h-2.4zM38.70,243.23h2.4v2.5h-2.4zM41.56,243.23h2.4v2.5h-2.4zM44.42,243.23h2.4v2.5h-2.4zM47.28,243.23h2.4v2.5h-2.4zM50.14,243.23h2.4v2.5h-2.4zM64.70,243.23h2.4v2.5h-2.4zM67.56,243.23h2.4v2.5h-2.4zM70.42,243.23h2.4v2.5h-2.4zM73.28,243.23h2.4v2.5h-2.4zM76.14,243.23h2.4v2.5h-2.4zM79.00,243.23h2.4v2.5h-2.4zM81.86,243.23h2.4v2.5h-2.4zM84.72,243.23h2.4v2.5h-2.4zM87.58,243.23h2.4v2.5h-2.4zM90.44,243.23h2.4v2.5h-2.4zM93.30,243.23h2.4v2.5h-2.4zM96.16,243.23h2.4v2.5h-2.4zM99.02,243.23h2.4v2.5h-2.4zM101.88,243.23h2.4v2.5h-2.4zM104.74,243.23h2.4v2.5h-2.4zM10.10,249.01h2.4v2.5h-2.4zM12.96,249.01h2.4v2.5h-2.4zM15.82,249.01h2.4v2.5h-2.4zM18.68,249.01h2.4v2.5h-2.4zM21.54,249.01h2.4v2.5h-2.4zM24.40,249.01h2.4v2.5h-2.4zM27.26,249.01h2.4v2.5h-2.4zM30.12,249.01h2.4v2.5h-2.4zM32.98,249.01h2.4v2.5h-2.4zM35.84,249.01h2.4v2.5h-2.4zM38.70,249.01h2.4v2.5h-2.4zM41.56,249.01h2.4v2.5h-2.4zM44.42,249.01h2.4v2.5h-2.4zM47.28,249.01h2.4v2.5h-2.4zM50.14,249.01h2.4v2.5h-2.4zM64.70,249.01h2.4v2.5h-2.4zM67.56,249.01h2.4v2.5h-2.4zM70.42,249.01h2.4v2.5h-2.4zM73.28,249.01h2.4v2.5h-2.4zM76.14,249.01h2.4v2.5h-2.4zM79.00,249.01h2.4v2.5h-2.4zM81.86,249.01h2.4v2.5h-2.4zM84.72,249.01h2.4v2.5h-2.4zM87.58,249.01h2.4v2.5h-2.4zM90.44,249.01h2.4v2.5h-2.4zM93.30,249.01h2.4v2.5h-2.4zM96.16,249.01h2.4v2.5h-2.4zM99.02,249.01h2.4v2.5h-2.4zM101.88,249.01h2.4v2.5h-2.4zM104.74,249.01h2.4v2.5h-2.4zM10.10,254.79h2.4v2.5h-2.4zM12.96,254.79h2.4v2.5h-2.4zM15.82,254.79h2.4v2.5h-2.4zM18.68,254.79h2.4v2.5h-2.4zM21.54,254.79h2.4v2.5h-2.4zM24.40,254.79h2.4v2.5h-2.4zM27.26,254.79h2.4v2.5h-2.4zM30.12,254.79h2.4v2.5h-2.4zM32.98,254.79h2.4v2.5h-2.4zM35.84,254.79h2.4v2.5h-2.4zM38.70,254.79h2.4v2.5h-2.4zM41.56,254.79h2.4v2.5h-2.4zM44.42,254.79h2.4v2.5h-2.4zM47.28,254.79h2.4v2.5h-2.4zM50.14,254.79h2.4v2.5h-2.4zM64.70,254.79h2.4v2.5h-2.4zM67.56,254.79h2.4v2.5h-2.4zM70.42,254.79h2.4v2.5h-2.4zM73.28,254.79h2.4v2.5h-2.4zM76.14,254.79h2.4v2.5h-2.4zM79.00,254.79h2.4v2.5h-2.4zM81.86,254.79h2.4v2.5h-2.4zM84.72,254.79h2.4v2.5h-2.4zM87.58,254.79h2.4v2.5h-2.4zM90.44,254.79h2.4v2.5h-2.4zM93.30,254.79h2.4v2.5h-2.4zM96.16,254.79h2.4v2.5h-2.4zM99.02,254.79h2.4v2.5h-2.4zM101.88,254.79h2.4v2.5h-2.4zM104.74,254.79h2.4v2.5h-2.4z" fill="none" stroke="#4a8ca6" stroke-width="0.5"/>
</g>
<path d="M426,7.6 L514.8,94 L565.8,147 L520,184 L472.5,134.4" fill="none" stroke="#8a8a8a" stroke-width="0.7"/>
<path d="M526,107.3 L560.2,142.6 L520.75,179.5 L475.3,136.4" fill="none" stroke="#8a8a8a" stroke-width="0.7"/>
<path d="M515.5,95 L525.5,105.7" fill="none" stroke="#444" stroke-width="0.8"/>
<path d="M544.5,157.5 L552,151 M529.5,171.3 L534.5,166.8" fill="none" stroke="#444" stroke-width="1"/>
<path d="M561.5,146.5 L527,177" fill="none" stroke="#8a8a8a" stroke-width="0.7"/>
<path d="M520,183.75 L504.5,203.75" fill="none" stroke="#8a8a8a" stroke-width="0.7"/>
<path d="M412.5,191.25 L437.5,217.5 L466,248 C471,254 481,255 487,249.5 L508,229.5 C514,223.5 514,214 509,208.5 L504.5,203.75 L520,183.75" fill="none" stroke="#8a8a8a" stroke-width="0.7"/>
<path d="M413.7,190.2 L438.6,216.4" fill="none" stroke="#8a8a8a" stroke-width="0.7"/>
<path d="M430,225 L437.5,217.5" fill="none" stroke="#8a8a8a" stroke-width="1.3"/>
<path d="M407.5,246.25 L415.5,238.75" fill="none" stroke="#8a8a8a" stroke-width="1.3"/>
<path d="M367,242 L409.5,236 M409.5,236 L410.5,236" fill="none" stroke="none"/>
<path d="M384,218.5 L411,246.5 L438.5,276.8 C442,280.5 442.5,285 440,288.5 L437.5,291.5" fill="none" stroke="#8a8a8a" stroke-width="0.7"/>
<path d="M400,336 L437.5,303.5 L478.6,346.2" fill="none" stroke="#8a8a8a" stroke-width="0.7"/>
<g transform="translate(456.5,192) rotate(46)"><rect x="-18.6" y="-18.6" width="37.2" height="37.2" fill="#feb80a" stroke="#4a4535" stroke-width="0.6"/></g><g transform="translate(456.5,192) rotate(-44)"><text x="0" y="3.4" font-size="9.6" font-weight="bold" fill="#252d4a" text-anchor="middle" >C</text></g>
<g transform="translate(382,262) rotate(46)"><rect x="-18.8" y="-18.8" width="37.6" height="37.6" fill="#feb80a" stroke="#4a4535" stroke-width="0.6"/></g><g transform="translate(382,262) rotate(-44)"><text x="0" y="3.4" font-size="9.6" font-weight="bold" fill="#252d4a" text-anchor="middle" >B</text></g>
<g transform="translate(344,298.5) rotate(46)"><rect x="-18.9" y="-18.9" width="37.8" height="37.8" fill="#feb80a" stroke="#4a4535" stroke-width="0.6"/></g><g transform="translate(344,298.5) rotate(-44)"><text x="0" y="3.4" font-size="9.6" font-weight="bold" fill="#252d4a" text-anchor="middle" >A</text></g>
<path d="M571.5,208.5 L624.8,261 L559.5,324.8 L507.3,272.5Z" fill="#fff" stroke="#8a8a8a" stroke-width="0.7"/>
<g transform="translate(671.25,159.25) rotate(45.5)">
<rect x="0" y="0" width="127.3" height="91.6" fill="#cbeff0" stroke="#4a6a9a" stroke-width="0.6"/>
<rect x="109.3" y="3.2" width="14.4" height="85" fill="#fff"/>
<path d="M7.45,59.25h2.5v2.5h-2.5zM7.45,62.55h2.5v2.5h-2.5zM7.45,65.85h2.5v2.5h-2.5zM7.45,69.15h2.5v2.5h-2.5zM7.45,72.45h2.5v2.5h-2.5zM7.45,75.75h2.5v2.5h-2.5zM7.45,39.05h2.5v2.5h-2.5zM7.45,42.35h2.5v2.5h-2.5zM7.45,45.65h2.5v2.5h-2.5zM7.45,48.95h2.5v2.5h-2.5zM7.45,52.25h2.5v2.5h-2.5zM7.45,14.75h2.5v2.5h-2.5zM7.45,18.05h2.5v2.5h-2.5zM7.45,21.35h2.5v2.5h-2.5zM7.45,24.65h2.5v2.5h-2.5zM7.45,27.95h2.5v2.5h-2.5zM7.45,31.25h2.5v2.5h-2.5zM13.60,59.25h2.5v2.5h-2.5zM13.60,62.55h2.5v2.5h-2.5zM13.60,65.85h2.5v2.5h-2.5zM13.60,69.15h2.5v2.5h-2.5zM13.60,72.45h2.5v2.5h-2.5zM13.60,75.75h2.5v2.5h-2.5zM13.60,39.05h2.5v2.5h-2.5zM13.60,42.35h2.5v2.5h-2.5zM13.60,45.65h2.5v2.5h-2.5zM13.60,48.95h2.5v2.5h-2.5zM13.60,52.25h2.5v2.5h-2.5zM13.60,14.75h2.5v2.5h-2.5zM13.60,18.05h2.5v2.5h-2.5zM13.60,21.35h2.5v2.5h-2.5zM13.60,24.65h2.5v2.5h-2.5zM13.60,27.95h2.5v2.5h-2.5zM13.60,31.25h2.5v2.5h-2.5zM19.75,59.25h2.5v2.5h-2.5zM19.75,62.55h2.5v2.5h-2.5zM19.75,65.85h2.5v2.5h-2.5zM19.75,69.15h2.5v2.5h-2.5zM19.75,72.45h2.5v2.5h-2.5zM19.75,75.75h2.5v2.5h-2.5zM19.75,39.05h2.5v2.5h-2.5zM19.75,42.35h2.5v2.5h-2.5zM19.75,45.65h2.5v2.5h-2.5zM19.75,48.95h2.5v2.5h-2.5zM19.75,52.25h2.5v2.5h-2.5zM19.75,14.75h2.5v2.5h-2.5zM19.75,18.05h2.5v2.5h-2.5zM19.75,21.35h2.5v2.5h-2.5zM19.75,24.65h2.5v2.5h-2.5zM19.75,27.95h2.5v2.5h-2.5zM19.75,31.25h2.5v2.5h-2.5zM25.90,59.25h2.5v2.5h-2.5zM25.90,62.55h2.5v2.5h-2.5zM25.90,65.85h2.5v2.5h-2.5zM25.90,69.15h2.5v2.5h-2.5zM25.90,72.45h2.5v2.5h-2.5zM25.90,75.75h2.5v2.5h-2.5zM25.90,39.05h2.5v2.5h-2.5zM25.90,42.35h2.5v2.5h-2.5zM25.90,45.65h2.5v2.5h-2.5zM25.90,48.95h2.5v2.5h-2.5zM25.90,52.25h2.5v2.5h-2.5zM25.90,14.75h2.5v2.5h-2.5zM25.90,18.05h2.5v2.5h-2.5zM25.90,21.35h2.5v2.5h-2.5zM25.90,24.65h2.5v2.5h-2.5zM25.90,27.95h2.5v2.5h-2.5zM25.90,31.25h2.5v2.5h-2.5zM32.05,59.25h2.5v2.5h-2.5zM32.05,62.55h2.5v2.5h-2.5zM32.05,65.85h2.5v2.5h-2.5zM32.05,69.15h2.5v2.5h-2.5zM32.05,72.45h2.5v2.5h-2.5zM32.05,75.75h2.5v2.5h-2.5zM32.05,39.05h2.5v2.5h-2.5zM32.05,42.35h2.5v2.5h-2.5zM32.05,45.65h2.5v2.5h-2.5zM32.05,48.95h2.5v2.5h-2.5zM32.05,52.25h2.5v2.5h-2.5zM32.05,14.75h2.5v2.5h-2.5zM32.05,18.05h2.5v2.5h-2.5zM32.05,21.35h2.5v2.5h-2.5zM32.05,24.65h2.5v2.5h-2.5zM32.05,27.95h2.5v2.5h-2.5zM32.05,31.25h2.5v2.5h-2.5zM38.20,59.25h2.5v2.5h-2.5zM38.20,62.55h2.5v2.5h-2.5zM38.20,65.85h2.5v2.5h-2.5zM38.20,69.15h2.5v2.5h-2.5zM38.20,72.45h2.5v2.5h-2.5zM38.20,75.75h2.5v2.5h-2.5zM38.20,39.05h2.5v2.5h-2.5zM38.20,42.35h2.5v2.5h-2.5zM38.20,45.65h2.5v2.5h-2.5zM38.20,48.95h2.5v2.5h-2.5zM38.20,52.25h2.5v2.5h-2.5zM38.20,14.75h2.5v2.5h-2.5zM38.20,18.05h2.5v2.5h-2.5zM38.20,21.35h2.5v2.5h-2.5zM38.20,24.65h2.5v2.5h-2.5zM38.20,27.95h2.5v2.5h-2.5zM38.20,31.25h2.5v2.5h-2.5zM44.35,59.25h2.5v2.5h-2.5zM44.35,62.55h2.5v2.5h-2.5zM44.35,65.85h2.5v2.5h-2.5zM44.35,69.15h2.5v2.5h-2.5zM44.35,72.45h2.5v2.5h-2.5zM44.35,75.75h2.5v2.5h-2.5zM44.35,39.05h2.5v2.5h-2.5zM44.35,42.35h2.5v2.5h-2.5zM44.35,45.65h2.5v2.5h-2.5zM44.35,48.95h2.5v2.5h-2.5zM44.35,52.25h2.5v2.5h-2.5zM44.35,14.75h2.5v2.5h-2.5zM44.35,18.05h2.5v2.5h-2.5zM44.35,21.35h2.5v2.5h-2.5zM44.35,24.65h2.5v2.5h-2.5zM44.35,27.95h2.5v2.5h-2.5zM44.35,31.25h2.5v2.5h-2.5zM56.35,59.25h2.5v2.5h-2.5zM56.35,62.55h2.5v2.5h-2.5zM56.35,65.85h2.5v2.5h-2.5zM56.35,69.15h2.5v2.5h-2.5zM56.35,72.45h2.5v2.5h-2.5zM56.35,75.75h2.5v2.5h-2.5zM56.35,39.05h2.5v2.5h-2.5zM56.35,42.35h2.5v2.5h-2.5zM56.35,45.65h2.5v2.5h-2.5zM56.35,48.95h2.5v2.5h-2.5zM56.35,52.25h2.5v2.5h-2.5zM56.35,14.75h2.5v2.5h-2.5zM56.35,18.05h2.5v2.5h-2.5zM56.35,21.35h2.5v2.5h-2.5zM56.35,24.65h2.5v2.5h-2.5zM56.35,27.95h2.5v2.5h-2.5zM56.35,31.25h2.5v2.5h-2.5zM62.50,59.25h2.5v2.5h-2.5zM62.50,62.55h2.5v2.5h-2.5zM62.50,65.85h2.5v2.5h-2.5zM62.50,69.15h2.5v2.5h-2.5zM62.50,72.45h2.5v2.5h-2.5zM62.50,75.75h2.5v2.5h-2.5zM62.50,39.05h2.5v2.5h-2.5zM62.50,42.35h2.5v2.5h-2.5zM62.50,45.65h2.5v2.5h-2.5zM62.50,48.95h2.5v2.5h-2.5zM62.50,52.25h2.5v2.5h-2.5zM62.50,14.75h2.5v2.5h-2.5zM62.50,18.05h2.5v2.5h-2.5zM62.50,21.35h2.5v2.5h-2.5zM62.50,24.65h2.5v2.5h-2.5zM62.50,27.95h2.5v2.5h-2.5zM62.50,31.25h2.5v2.5h-2.5zM68.65,59.25h2.5v2.5h-2.5zM68.65,62.55h2.5v2.5h-2.5zM68.65,65.85h2.5v2.5h-2.5zM68.65,69.15h2.5v2.5h-2.5zM68.65,72.45h2.5v2.5h-2.5zM68.65,75.75h2.5v2.5h-2.5zM68.65,39.05h2.5v2.5h-2.5zM68.65,42.35h2.5v2.5h-2.5zM68.65,45.65h2.5v2.5h-2.5zM68.65,48.95h2.5v2.5h-2.5zM68.65,52.25h2.5v2.5h-2.5zM68.65,14.75h2.5v2.5h-2.5zM68.65,18.05h2.5v2.5h-2.5zM68.65,21.35h2.5v2.5h-2.5zM68.65,24.65h2.5v2.5h-2.5zM68.65,27.95h2.5v2.5h-2.5zM68.65,31.25h2.5v2.5h-2.5zM74.80,59.25h2.5v2.5h-2.5zM74.80,62.55h2.5v2.5h-2.5zM74.80,65.85h2.5v2.5h-2.5zM74.80,69.15h2.5v2.5h-2.5zM74.80,72.45h2.5v2.5h-2.5zM74.80,75.75h2.5v2.5h-2.5zM74.80,39.05h2.5v2.5h-2.5zM74.80,42.35h2.5v2.5h-2.5zM74.80,45.65h2.5v2.5h-2.5zM74.80,48.95h2.5v2.5h-2.5zM74.80,52.25h2.5v2.5h-2.5zM74.80,14.75h2.5v2.5h-2.5zM74.80,18.05h2.5v2.5h-2.5zM74.80,21.35h2.5v2.5h-2.5zM74.80,24.65h2.5v2.5h-2.5zM74.80,27.95h2.5v2.5h-2.5zM74.80,31.25h2.5v2.5h-2.5zM80.95,59.25h2.5v2.5h-2.5zM80.95,62.55h2.5v2.5h-2.5zM80.95,65.85h2.5v2.5h-2.5zM80.95,69.15h2.5v2.5h-2.5zM80.95,72.45h2.5v2.5h-2.5zM80.95,75.75h2.5v2.5h-2.5zM80.95,39.05h2.5v2.5h-2.5zM80.95,42.35h2.5v2.5h-2.5zM80.95,45.65h2.5v2.5h-2.5zM80.95,48.95h2.5v2.5h-2.5zM80.95,52.25h2.5v2.5h-2.5zM80.95,14.75h2.5v2.5h-2.5zM80.95,18.05h2.5v2.5h-2.5zM80.95,21.35h2.5v2.5h-2.5zM80.95,24.65h2.5v2.5h-2.5zM80.95,27.95h2.5v2.5h-2.5zM80.95,31.25h2.5v2.5h-2.5zM87.10,59.25h2.5v2.5h-2.5zM87.10,62.55h2.5v2.5h-2.5zM87.10,65.85h2.5v2.5h-2.5zM87.10,69.15h2.5v2.5h-2.5zM87.10,72.45h2.5v2.5h-2.5zM87.10,75.75h2.5v2.5h-2.5zM87.10,39.05h2.5v2.5h-2.5zM87.10,42.35h2.5v2.5h-2.5zM87.10,45.65h2.5v2.5h-2.5zM87.10,48.95h2.5v2.5h-2.5zM87.10,52.25h2.5v2.5h-2.5zM87.10,14.75h2.5v2.5h-2.5zM87.10,18.05h2.5v2.5h-2.5zM87.10,21.35h2.5v2.5h-2.5zM87.10,24.65h2.5v2.5h-2.5zM87.10,27.95h2.5v2.5h-2.5zM87.10,31.25h2.5v2.5h-2.5zM93.25,59.25h2.5v2.5h-2.5zM93.25,62.55h2.5v2.5h-2.5zM93.25,65.85h2.5v2.5h-2.5zM93.25,69.15h2.5v2.5h-2.5zM93.25,72.45h2.5v2.5h-2.5zM93.25,75.75h2.5v2.5h-2.5zM93.25,39.05h2.5v2.5h-2.5zM93.25,42.35h2.5v2.5h-2.5zM93.25,45.65h2.5v2.5h-2.5zM93.25,48.95h2.5v2.5h-2.5zM93.25,52.25h2.5v2.5h-2.5zM93.25,14.75h2.5v2.5h-2.5zM93.25,18.05h2.5v2.5h-2.5zM93.25,21.35h2.5v2.5h-2.5zM93.25,24.65h2.5v2.5h-2.5zM93.25,27.95h2.5v2.5h-2.5zM93.25,31.25h2.5v2.5h-2.5zM99.40,59.25h2.5v2.5h-2.5zM99.40,62.55h2.5v2.5h-2.5zM99.40,65.85h2.5v2.5h-2.5zM99.40,69.15h2.5v2.5h-2.5zM99.40,72.45h2.5v2.5h-2.5zM99.40,75.75h2.5v2.5h-2.5zM99.40,39.05h2.5v2.5h-2.5zM99.40,42.35h2.5v2.5h-2.5zM99.40,45.65h2.5v2.5h-2.5zM99.40,48.95h2.5v2.5h-2.5zM99.40,52.25h2.5v2.5h-2.5zM99.40,14.75h2.5v2.5h-2.5zM99.40,18.05h2.5v2.5h-2.5zM99.40,21.35h2.5v2.5h-2.5zM99.40,24.65h2.5v2.5h-2.5zM99.40,27.95h2.5v2.5h-2.5zM99.40,31.25h2.5v2.5h-2.5z" fill="none" stroke="#4d8ea5" stroke-width="0.5"/>
<g transform="translate(119.1,45.6) rotate(-90)"><text x="0" y="0" font-size="7.0" font-weight="bold" fill="#0c3c61" text-anchor="middle" textLength="80" lengthAdjust="spacingAndGlyphs" stroke="#0c3c61" stroke-width="0.3">SALÓN BIOLOGICALS LATAM</text></g>
</g>
<g transform="translate(473.75,301.25) rotate(45)">
<rect x="0" y="0" width="61.9" height="21.9" fill="#cbeff0" stroke="#7fb5c0" stroke-width="0.6"/>
<text x="31" y="14.4" font-size="8.8" font-weight="bold" fill="#0c3c61" text-anchor="middle" textLength="52.5" lengthAdjust="spacingAndGlyphs" stroke="#0c3c61" stroke-width="0.5">ACREDITACIÓN</text>
</g>
<use href="#arr" transform="translate(430.6,243.3) rotate(90)"/>
<use href="#arr" transform="translate(449.8,297.5) rotate(0)"/>
<use href="#arr" transform="translate(506.5,310) rotate(90)"/>
<use href="#arr" transform="translate(630,289.5) rotate(0)"/>
<use href="#arr" transform="translate(580.3,343) rotate(0)"/>
<path d="M471.2,345.4 C463,344.5 459.5,351 461.7,356.5 C462.5,359.5 463.8,361.8 465.4,363.5" fill="none" stroke="#8c8c8c" stroke-width="0.7"/>
<path d="M471.2,345.4 L478.8,347.6 L496.3,365.2 L489,372 L479.6,366" fill="none" stroke="#8c8c8c" stroke-width="0.7"/>
<path d="M471.2,351.8 L465.4,363.5 C464.5,367 463,370.5 461.2,373.5 C458.5,378 455,381 450.3,383.6 C446,386 441.5,388 436.9,389.4 C432.5,390.8 428.5,392 424.3,392.8" fill="none" stroke="#8c8c8c" stroke-width="0.7"/>
<path d="M478.6,346.8 L478.6,365.5 C476.5,370 474,374 470.5,377.5 C467,382 463.5,386 459.5,389.5 C455,393.5 450,396.8 445.1,399 C439,401.8 432,403.4 424.5,404" fill="none" stroke="#8c8c8c" stroke-width="0.7"/>
<path d="M465.4,363.5L478.6,365.5M464.9,364.7L477.6,367.0M464.4,366.0L476.6,368.5M463.8,367.2L475.6,370.0M463.3,368.5L474.6,371.5M462.8,369.7L473.6,373.0M462.3,371.0L472.6,374.5M461.7,372.2L471.5,376.0M461.2,373.5L470.5,377.4M459.9,374.7L469.2,378.9M453.8,380.4L463.0,385.7M452.6,381.5L461.8,387.0M451.4,382.6L460.6,388.3M450.2,383.7L459.4,389.6M448.7,384.3L457.8,390.6M447.2,384.9L456.2,391.7M445.7,385.6L454.6,392.7M444.3,386.2L453.0,393.8M442.8,386.8L451.4,394.8M438.5,388.7L446.8,397.9M437.1,389.3L445.3,398.8M435.8,389.7L443.3,399.4M434.5,390.0L441.2,399.9M433.2,390.4L439.1,400.5M431.9,390.7L437.0,401.0M430.6,391.1L434.9,401.5M429.3,391.4L432.7,402.0" fill="none" stroke="#666" stroke-width="0.5"/>
<path d="M481.0,365.0L488.5,357.5M482.2,366.1L489.6,358.6M483.4,367.3L490.8,359.8M484.6,368.4L491.9,360.9M485.9,369.6L493.1,362.1M487.1,370.7L494.2,363.2M488.3,371.9L495.4,364.4M489.5,373.0L496.5,365.5" fill="none" stroke="#666" stroke-width="0.5"/>
<path d="M479.6,366 L510.5,409 M481.2,365 L512.3,408" fill="none" stroke="#8c8c8c" stroke-width="0.7"/>
<path d="M403.2,388.6 L398.8,411.5 L408.2,413.8 L406.6,424.1 L433.5,430.4 L434.7,422.9 M401.3,400.2 L411.4,402.4 L408.2,413.8 M403.2,388.6 L424,393.2 M411.4,402.4 L437.9,408.4 L436.6,414.7" fill="none" stroke="#8c8c8c" stroke-width="0.7"/>
<path d="M412.7,390.7L410.8,401.8M414.3,391.1L412.5,402.2M415.9,391.4L414.1,402.5M417.5,391.8L415.8,402.9M419.2,392.1L417.4,403.2M420.8,392.5L419.1,403.6M422.4,392.8L420.7,403.9M424.0,393.2L422.4,404.3" fill="none" stroke="#666" stroke-width="0.5"/>
<path d="M426.5,412.8 L505.4,428 Q509.2,428.7 512.1,430.3 A26.4,26.4 0 1 1 481.9,433 M425.3,421 L489,433.3 Q494,434 498.9,434 M420.9,412 L426.5,412.8 L425.3,421 L420.2,419.8Z" fill="none" stroke="#8c8c8c" stroke-width="0.7"/>
<path d="M422,412.3 L421.4,420 M423.3,412.5 L422.7,420.3 M424.6,412.6 L424,420.6" fill="none" stroke="#666" stroke-width="0.5"/>
<path d="M491.6,424.6 L522.5,405.7 L527.5,412 L505.4,428" fill="none" stroke="#8c8c8c" stroke-width="0.7"/>
<path d="M492.8,425.6 L515.5,411.6 M494,426.6 L516.5,412.8 M506.6,426.0 L520.5,417 M507.8,427.2 L521.4,418.2" fill="none" stroke="#666" stroke-width="0.5"/>
<path d="M461.8,395.1 C470.5,400 471.5,410 465,417.2" fill="none" stroke="#8c8c8c" stroke-width="0.7"/>
<path d="M463.1,431.1 C464,441 460,447.5 452.4,450" fill="none" stroke="#8c8c8c" stroke-width="0.7"/>
<path d="M429.7,457.6 C438,466.5 453,466.5 461.2,457.6" fill="none" stroke="#8c8c8c" stroke-width="0.7"/>
<path d="M432.5,498.5 V465.7 H458 V498.5 H432.5 M439.8,487.8 H458" fill="none" stroke="#8c8c8c" stroke-width="0.7"/>
<path d="M440,465.4 H451" fill="none" stroke="#aaa" stroke-width="1.2"/>
<path d="M432.5,493 C435.5,493 437.5,495.5 437.5,498.5" fill="none" stroke="#8c8c8c" stroke-width="0.7"/>
<circle cx="498.9" cy="453.2" r="19" fill="none" stroke="#8c8c8c" stroke-width="0.7"/>
<path d="M519.3,422.1 C526,430 531,440 533.5,448 C536,457 536,466 532.5,474.5 C528,484 517,491 503,491.5 C490,492 478,487 471.5,478 C466,470.5 464.5,463 465.7,456.8 C467,450 470,446 473.9,442.9 L481.5,431.6" fill="none" stroke="#8c8c8c" stroke-width="0.7"/>
<path d="M475.2,443.8 L482.8,432.6" fill="none" stroke="#8c8c8c" stroke-width="0.7"/>
<path d="M498.9,453.2L517.5,455.8M498.9,453.2L513.7,464.8M498.9,453.2L505.9,470.6M498.9,453.2L496.3,471.8M498.9,453.2L487.3,468.0M498.9,453.2L481.5,460.2M498.9,453.2L480.3,450.6M498.9,453.2L484.1,441.6M498.9,453.2L491.9,435.8M498.9,453.2L501.5,434.6M498.9,453.2L510.5,438.4M498.9,453.2L516.3,446.2" fill="none" stroke="#505050" stroke-width="1.15"/>
<path d="M498.9,453.2L508.6,455.6M498.9,453.2L506.1,460.1M498.9,453.2L501.7,462.8M498.9,453.2L496.5,462.9M498.9,453.2L492.0,460.4M498.9,453.2L489.3,456.0M498.9,453.2L489.2,450.8M498.9,453.2L491.7,446.3M498.9,453.2L496.1,443.6M498.9,453.2L501.3,443.5M498.9,453.2L505.8,446.0M498.9,453.2L508.5,450.4" fill="none" stroke="#555" stroke-width="0.6"/>
<circle cx="498.9" cy="453.2" r="1.6" fill="#333"/>
<rect x="480.3" y="449.2" width="2.8" height="7.6" fill="#aaa"/>
<use href="#tree" style="mix-blend-mode:darken" transform="translate(290.1,382.4)"/>
<use href="#tree" style="mix-blend-mode:darken" transform="translate(315.2,367.1)"/>
<use href="#tree" style="mix-blend-mode:darken" transform="translate(402.5,366.0)"/>
<use href="#tree" style="mix-blend-mode:darken" transform="translate(241.2,528.4)"/>
<use href="#tree" style="mix-blend-mode:darken" transform="translate(235.5,550.2)"/>
<use href="#tree" style="mix-blend-mode:darken" transform="translate(175.8,578.0)"/>
<use href="#tree" style="mix-blend-mode:darken" transform="translate(207.8,583.6)"/>
<use href="#tree" style="mix-blend-mode:darken" transform="translate(190.8,609.2)"/>
<use href="#tree" style="mix-blend-mode:darken" transform="translate(178.7,630.5)"/>
<use href="#tree" style="mix-blend-mode:darken" transform="translate(231.8,652.9)"/>
<use href="#tree" style="mix-blend-mode:darken" transform="translate(243.2,658.9)"/>
<use href="#tree" style="mix-blend-mode:darken" transform="translate(229.7,666.4)"/>
<use href="#tree" style="mix-blend-mode:darken" transform="translate(242.2,673.9)"/>
<use href="#tree" style="mix-blend-mode:darken" transform="translate(121.5,707.1)"/>
<use href="#tree" style="mix-blend-mode:darken" transform="translate(136.5,701.9)"/>
<use href="#tree" style="mix-blend-mode:darken" transform="translate(118.2,722.2)"/>
<use href="#tree" style="mix-blend-mode:darken" transform="translate(134.0,717.9)"/>
<use href="#tree" style="mix-blend-mode:darken" transform="translate(150.0,720.6)"/>
<use href="#tree" style="mix-blend-mode:darken" transform="translate(230.4,715.0)"/>
<use href="#tree" style="mix-blend-mode:darken" transform="translate(239.4,723.4)"/>
<use href="#tree" style="mix-blend-mode:darken" transform="translate(225.9,730.6)"/>
<use href="#tree" style="mix-blend-mode:darken" transform="translate(221.5,741.8)"/>
<use href="#tree" style="mix-blend-mode:darken" transform="translate(239.4,745.4)"/>
<use href="#tree" style="mix-blend-mode:darken" transform="translate(183.2,794.6)"/>
<use href="#tree" style="mix-blend-mode:darken" transform="translate(255.9,850.0)"/>
<use href="#tree" style="mix-blend-mode:darken" transform="translate(291.0,835.2)"/>
<use href="#tree" style="mix-blend-mode:darken" transform="translate(435.5,823.2)"/>
<use href="#tree" style="mix-blend-mode:darken" transform="translate(466.4,823.2)"/>
<path d="M293.75,806 H510.5 V732 H511.25 V506.6 H365 M296,506.6 H289 M278,506.6 H261.25 V762.5 M261.25,806 H293.75" fill="none" stroke="#9a9a9a" stroke-width="0.8"/>
<path d="M511.25,606 V626.5" fill="none" stroke="#333" stroke-width="1"/>
<rect x="266.25" y="513.3" width="13.25" height="40.20" fill="#008f7c" stroke="#0a7a6a" stroke-width="0.5"/>
<text x="272.88" y="537.22" font-size="10.6" font-weight="normal" fill="#fff" text-anchor="middle" textLength="10.4" lengthAdjust="spacingAndGlyphs" stroke="#fff" stroke-width="0.33">28</text>
<rect x="266.25" y="553.5" width="13.25" height="40.10" fill="#008f7c" stroke="#0a7a6a" stroke-width="0.5"/>
<text x="272.88" y="577.37" font-size="10.6" font-weight="normal" fill="#fff" text-anchor="middle" textLength="10.4" lengthAdjust="spacingAndGlyphs" stroke="#fff" stroke-width="0.33">27</text>
<rect x="266.25" y="593.6" width="13.25" height="40.60" fill="#008f7c" stroke="#0a7a6a" stroke-width="0.5"/>
<text x="272.88" y="617.72" font-size="10.6" font-weight="normal" fill="#fff" text-anchor="middle" textLength="10.4" lengthAdjust="spacingAndGlyphs" stroke="#fff" stroke-width="0.33">26</text>
<rect x="266.25" y="634.2" width="13.25" height="20.20" fill="#9eb4c8" stroke="#7890aa" stroke-width="0.5"/>
<text x="272.07" y="647.62" font-size="10.6" font-weight="normal" fill="#1b2a5c" text-anchor="middle" textLength="9.6" lengthAdjust="spacingAndGlyphs" stroke="#1b2a5c" stroke-width="0.33">25</text>
<rect x="266.25" y="654.4" width="13.25" height="20.10" fill="#9eb4c8" stroke="#7890aa" stroke-width="0.5"/>
<text x="272.07" y="667.77" font-size="10.6" font-weight="normal" fill="#1b2a5c" text-anchor="middle" textLength="9.6" lengthAdjust="spacingAndGlyphs" stroke="#1b2a5c" stroke-width="0.33">24</text>
<rect x="266.25" y="674.5" width="13.25" height="20.20" fill="#9eb4c8" stroke="#7890aa" stroke-width="0.5"/>
<text x="272.07" y="687.92" font-size="10.6" font-weight="normal" fill="#1b2a5c" text-anchor="middle" textLength="9.6" lengthAdjust="spacingAndGlyphs" stroke="#1b2a5c" stroke-width="0.33">23</text>
<rect x="266.25" y="694.7" width="13.25" height="20.40" fill="#9eb4c8" stroke="#7890aa" stroke-width="0.5"/>
<text x="272.07" y="708.22" font-size="10.6" font-weight="normal" fill="#1b2a5c" text-anchor="middle" textLength="9.6" lengthAdjust="spacingAndGlyphs" stroke="#1b2a5c" stroke-width="0.33">22</text>
<rect x="266.25" y="715.1" width="13.25" height="40.50" fill="#feb80a" stroke="#a9821c" stroke-width="0.5"/>
<text x="272.88" y="739.17" font-size="10.6" font-weight="normal" fill="#1b2a5c" text-anchor="middle" textLength="10.4" lengthAdjust="spacingAndGlyphs" stroke="#1b2a5c" stroke-width="0.33">21</text>
<rect x="312.5" y="654.25" width="13.75" height="20.00" fill="#9eb4c8" stroke="#7890aa" stroke-width="0.5"/>
<text x="319.38" y="667.99" font-size="10.4" font-weight="normal" fill="#1b2a5c" text-anchor="middle" textLength="9.5" lengthAdjust="spacingAndGlyphs" stroke="#1b2a5c" stroke-width="0.33">30</text>
<rect x="326.25" y="654.25" width="13.75" height="20.00" fill="#9eb4c8" stroke="#7890aa" stroke-width="0.5"/>
<text x="333.12" y="667.99" font-size="10.4" font-weight="normal" fill="#1b2a5c" text-anchor="middle" textLength="9.5" lengthAdjust="spacingAndGlyphs" stroke="#1b2a5c" stroke-width="0.33">38</text>
<rect x="312.5" y="674.25" width="13.75" height="20.25" fill="#9eb4c8" stroke="#7890aa" stroke-width="0.5"/>
<text x="319.38" y="688.12" font-size="10.4" font-weight="normal" fill="#1b2a5c" text-anchor="middle" textLength="9.5" lengthAdjust="spacingAndGlyphs" stroke="#1b2a5c" stroke-width="0.33">31</text>
<rect x="326.25" y="674.25" width="13.75" height="20.25" fill="#9eb4c8" stroke="#7890aa" stroke-width="0.5"/>
<text x="333.12" y="688.12" font-size="10.4" font-weight="normal" fill="#1b2a5c" text-anchor="middle" textLength="9.5" lengthAdjust="spacingAndGlyphs" stroke="#1b2a5c" stroke-width="0.33">37</text>
<rect x="312.5" y="694.5" width="13.75" height="20.00" fill="#9eb4c8" stroke="#7890aa" stroke-width="0.5"/>
<text x="319.38" y="708.24" font-size="10.4" font-weight="normal" fill="#1b2a5c" text-anchor="middle" textLength="9.5" lengthAdjust="spacingAndGlyphs" stroke="#1b2a5c" stroke-width="0.33">32</text>
<rect x="326.25" y="694.5" width="13.75" height="20.00" fill="#9eb4c8" stroke="#7890aa" stroke-width="0.5"/>
<text x="333.12" y="708.24" font-size="10.4" font-weight="normal" fill="#1b2a5c" text-anchor="middle" textLength="9.5" lengthAdjust="spacingAndGlyphs" stroke="#1b2a5c" stroke-width="0.33">36</text>
<rect x="312.5" y="714.5" width="13.75" height="20.00" fill="#9eb4c8" stroke="#7890aa" stroke-width="0.5"/>
<text x="319.38" y="728.24" font-size="10.4" font-weight="normal" fill="#1b2a5c" text-anchor="middle" textLength="9.5" lengthAdjust="spacingAndGlyphs" stroke="#1b2a5c" stroke-width="0.33">33</text>
<rect x="326.25" y="714.5" width="13.75" height="20.00" fill="#9eb4c8" stroke="#7890aa" stroke-width="0.5"/>
<text x="333.12" y="728.24" font-size="10.4" font-weight="normal" fill="#1b2a5c" text-anchor="middle" textLength="9.5" lengthAdjust="spacingAndGlyphs" stroke="#1b2a5c" stroke-width="0.33">35</text>
<rect x="313" y="634.9" width="27.00" height="19.35" fill="#008f7c"/>
<text x="326.50" y="648.39" font-size="10.6" font-weight="normal" fill="#fff" text-anchor="middle" textLength="10.4" lengthAdjust="spacingAndGlyphs" stroke="#fff" stroke-width="0.33">29</text>
<rect x="313" y="734.5" width="27.00" height="20.00" fill="#feb80a" stroke="#a9821c" stroke-width="0.5"/>
<text x="326.50" y="748.32" font-size="10.6" font-weight="normal" fill="#1b2a5c" text-anchor="middle" textLength="10.4" lengthAdjust="spacingAndGlyphs" stroke="#1b2a5c" stroke-width="0.33">34</text>
<rect x="372.5" y="634.9" width="27.00" height="20.10" fill="#008f7c"/>
<text x="386.00" y="648.77" font-size="10.6" font-weight="normal" fill="#fff" text-anchor="middle" textLength="10.4" lengthAdjust="spacingAndGlyphs" stroke="#fff" stroke-width="0.33">39</text>
<rect x="372.5" y="655" width="27.00" height="19.25" fill="#feb80a" stroke="#a9821c" stroke-width="0.5"/>
<text x="386.00" y="668.44" font-size="10.6" font-weight="normal" fill="#1b2a5c" text-anchor="middle" textLength="10.4" lengthAdjust="spacingAndGlyphs" stroke="#1b2a5c" stroke-width="0.33">40</text>
<rect x="372.5" y="715" width="27.00" height="19.50" fill="#feb80a" stroke="#a9821c" stroke-width="0.5"/>
<text x="386.00" y="728.57" font-size="10.6" font-weight="normal" fill="#1b2a5c" text-anchor="middle" textLength="10.4" lengthAdjust="spacingAndGlyphs" stroke="#1b2a5c" stroke-width="0.33">41</text>
<rect x="372.5" y="734.5" width="27.00" height="20.00" fill="#feb80a" stroke="#a9821c" stroke-width="0.5"/>
<text x="386.00" y="748.32" font-size="10.6" font-weight="normal" fill="#1b2a5c" text-anchor="middle" textLength="10.4" lengthAdjust="spacingAndGlyphs" stroke="#1b2a5c" stroke-width="0.33">42</text>
<rect x="440.3" y="654.25" width="13.95" height="20.00" fill="#9eb4c8" stroke="#7890aa" stroke-width="0.5"/>
<text x="447.27" y="667.99" font-size="10.4" font-weight="normal" fill="#1b2a5c" text-anchor="middle" textLength="9.5" lengthAdjust="spacingAndGlyphs" stroke="#1b2a5c" stroke-width="0.33">44</text>
<rect x="454.25" y="654.25" width="13.25" height="20.00" fill="#9eb4c8" stroke="#7890aa" stroke-width="0.5"/>
<text x="460.88" y="667.99" font-size="10.4" font-weight="normal" fill="#1b2a5c" text-anchor="middle" textLength="9.5" lengthAdjust="spacingAndGlyphs" stroke="#1b2a5c" stroke-width="0.33">52</text>
<rect x="440.3" y="674.25" width="13.95" height="20.25" fill="#9eb4c8" stroke="#7890aa" stroke-width="0.5"/>
<text x="447.27" y="688.12" font-size="10.4" font-weight="normal" fill="#1b2a5c" text-anchor="middle" textLength="9.5" lengthAdjust="spacingAndGlyphs" stroke="#1b2a5c" stroke-width="0.33">45</text>
<rect x="454.25" y="674.25" width="13.25" height="20.25" fill="#9eb4c8" stroke="#7890aa" stroke-width="0.5"/>
<text x="460.88" y="688.12" font-size="10.4" font-weight="normal" fill="#1b2a5c" text-anchor="middle" textLength="9.5" lengthAdjust="spacingAndGlyphs" stroke="#1b2a5c" stroke-width="0.33">51</text>
<rect x="440.3" y="694.5" width="13.95" height="20.00" fill="#9eb4c8" stroke="#7890aa" stroke-width="0.5"/>
<text x="447.27" y="708.24" font-size="10.4" font-weight="normal" fill="#1b2a5c" text-anchor="middle" textLength="9.5" lengthAdjust="spacingAndGlyphs" stroke="#1b2a5c" stroke-width="0.33">46</text>
<rect x="454.25" y="694.5" width="13.25" height="20.00" fill="#9eb4c8" stroke="#7890aa" stroke-width="0.5"/>
<text x="460.88" y="708.24" font-size="10.4" font-weight="normal" fill="#1b2a5c" text-anchor="middle" textLength="9.5" lengthAdjust="spacingAndGlyphs" stroke="#1b2a5c" stroke-width="0.33">50</text>
<rect x="440.3" y="714.5" width="13.95" height="20.00" fill="#9eb4c8" stroke="#7890aa" stroke-width="0.5"/>
<text x="447.27" y="728.24" font-size="10.4" font-weight="normal" fill="#1b2a5c" text-anchor="middle" textLength="9.5" lengthAdjust="spacingAndGlyphs" stroke="#1b2a5c" stroke-width="0.33">47</text>
<rect x="454.25" y="714.5" width="13.25" height="20.00" fill="#9eb4c8" stroke="#7890aa" stroke-width="0.5"/>
<text x="460.88" y="728.24" font-size="10.4" font-weight="normal" fill="#1b2a5c" text-anchor="middle" textLength="9.5" lengthAdjust="spacingAndGlyphs" stroke="#1b2a5c" stroke-width="0.33">49</text>
<rect x="440.5" y="634.9" width="27.00" height="19.35" fill="#008f7c"/>
<text x="454.00" y="648.39" font-size="10.6" font-weight="normal" fill="#fff" text-anchor="middle" textLength="10.4" lengthAdjust="spacingAndGlyphs" stroke="#fff" stroke-width="0.33">43</text>
<rect x="440.5" y="734.5" width="27.00" height="20.00" fill="#feb80a" stroke="#a9821c" stroke-width="0.5"/>
<text x="454.00" y="748.32" font-size="10.6" font-weight="normal" fill="#1b2a5c" text-anchor="middle" textLength="10.4" lengthAdjust="spacingAndGlyphs" stroke="#1b2a5c" stroke-width="0.33">48</text>
<rect x="494.25" y="606.25" width="13.25" height="40.75" fill="#5ceedb" stroke="#3fb8aa" stroke-width="0.5"/>
<text x="500.88" y="630.44" font-size="10.6" font-weight="normal" fill="#1b2a5c" text-anchor="middle" textLength="5.3" lengthAdjust="spacingAndGlyphs" stroke="#1b2a5c" stroke-width="0.33">4</text>
<rect x="494.25" y="647" width="13.25" height="40.50" fill="#5ceedb" stroke="#3fb8aa" stroke-width="0.5"/>
<text x="500.88" y="671.07" font-size="10.6" font-weight="normal" fill="#1b2a5c" text-anchor="middle" textLength="5.3" lengthAdjust="spacingAndGlyphs" stroke="#1b2a5c" stroke-width="0.33">5</text>
<rect x="494.25" y="687.5" width="13.25" height="20.00" fill="#9eb4c8" stroke="#7890aa" stroke-width="0.5"/>
<text x="500.88" y="701.24" font-size="10.4" font-weight="normal" fill="#1b2a5c" text-anchor="middle" textLength="5.0" lengthAdjust="spacingAndGlyphs" stroke="#1b2a5c" stroke-width="0.33">6</text>
<rect x="494.25" y="707.5" width="13.25" height="20.00" fill="#9eb4c8" stroke="#7890aa" stroke-width="0.5"/>
<text x="500.88" y="721.24" font-size="10.4" font-weight="normal" fill="#1b2a5c" text-anchor="middle" textLength="5.0" lengthAdjust="spacingAndGlyphs" stroke="#1b2a5c" stroke-width="0.33">7</text>
<rect x="494.25" y="727.5" width="13.25" height="20.75" fill="#9eb4c8" stroke="#7890aa" stroke-width="0.5"/>
<text x="500.88" y="741.62" font-size="10.4" font-weight="normal" fill="#1b2a5c" text-anchor="middle" textLength="5.0" lengthAdjust="spacingAndGlyphs" stroke="#1b2a5c" stroke-width="0.33">8</text>
<rect x="494.25" y="748.25" width="13.25" height="20.50" fill="#9eb4c8" stroke="#7890aa" stroke-width="0.5"/>
<text x="500.88" y="762.24" font-size="10.4" font-weight="normal" fill="#1b2a5c" text-anchor="middle" textLength="5.0" lengthAdjust="spacingAndGlyphs" stroke="#1b2a5c" stroke-width="0.33">9</text>
<rect x="494.25" y="768.75" width="13.25" height="20.00" fill="#9eb4c8" stroke="#7890aa" stroke-width="0.5"/>
<text x="500.88" y="782.49" font-size="10.4" font-weight="normal" fill="#1b2a5c" text-anchor="middle" textLength="9.2" lengthAdjust="spacingAndGlyphs" stroke="#1b2a5c" stroke-width="0.33">10</text>
<rect x="268" y="789.25" width="40.25" height="13.75" fill="#feb80a" stroke="#a9821c" stroke-width="0.5"/>
<text x="288.12" y="799.34" font-size="10.6" font-weight="normal" fill="#1b2a5c" text-anchor="middle" textLength="10.4" lengthAdjust="spacingAndGlyphs" stroke="#1b2a5c" stroke-width="0.33">20</text>
<rect x="308.25" y="789.25" width="20.61" height="13.75" fill="#9eb4c8" stroke="#7890aa" stroke-width="0.5"/>
<text x="317.56" y="799.00" font-size="10.2" font-weight="normal" fill="#1b2a5c" text-anchor="middle" textLength="8.5" lengthAdjust="spacingAndGlyphs" stroke="#1b2a5c" stroke-width="0.33">19</text>
<rect x="328.86" y="789.25" width="20.61" height="13.75" fill="#9eb4c8" stroke="#7890aa" stroke-width="0.5"/>
<text x="338.17" y="799.00" font-size="10.2" font-weight="normal" fill="#1b2a5c" text-anchor="middle" textLength="8.5" lengthAdjust="spacingAndGlyphs" stroke="#1b2a5c" stroke-width="0.33">18</text>
<rect x="349.47" y="789.25" width="20.61" height="13.75" fill="#9eb4c8" stroke="#7890aa" stroke-width="0.5"/>
<text x="358.77" y="799.00" font-size="10.2" font-weight="normal" fill="#1b2a5c" text-anchor="middle" textLength="8.5" lengthAdjust="spacingAndGlyphs" stroke="#1b2a5c" stroke-width="0.33">17</text>
<rect x="370.08" y="789.25" width="20.61" height="13.75" fill="#9eb4c8" stroke="#7890aa" stroke-width="0.5"/>
<text x="379.38" y="799.00" font-size="10.2" font-weight="normal" fill="#1b2a5c" text-anchor="middle" textLength="8.5" lengthAdjust="spacingAndGlyphs" stroke="#1b2a5c" stroke-width="0.33">16</text>
<rect x="390.69" y="789.25" width="20.61" height="13.75" fill="#9eb4c8" stroke="#7890aa" stroke-width="0.5"/>
<text x="400.00" y="799.00" font-size="10.2" font-weight="normal" fill="#1b2a5c" text-anchor="middle" textLength="8.5" lengthAdjust="spacingAndGlyphs" stroke="#1b2a5c" stroke-width="0.33">15</text>
<rect x="411.3" y="789.25" width="20.61" height="13.75" fill="#9eb4c8" stroke="#7890aa" stroke-width="0.5"/>
<text x="420.61" y="799.00" font-size="10.2" font-weight="normal" fill="#1b2a5c" text-anchor="middle" textLength="8.5" lengthAdjust="spacingAndGlyphs" stroke="#1b2a5c" stroke-width="0.33">14</text>
<rect x="431.91" y="789.25" width="20.61" height="13.75" fill="#9eb4c8" stroke="#7890aa" stroke-width="0.5"/>
<text x="441.22" y="799.00" font-size="10.2" font-weight="normal" fill="#1b2a5c" text-anchor="middle" textLength="8.5" lengthAdjust="spacingAndGlyphs" stroke="#1b2a5c" stroke-width="0.33">13</text>
<rect x="452.52" y="789.25" width="20.61" height="13.75" fill="#9eb4c8" stroke="#7890aa" stroke-width="0.5"/>
<text x="461.82" y="799.00" font-size="10.2" font-weight="normal" fill="#1b2a5c" text-anchor="middle" textLength="8.5" lengthAdjust="spacingAndGlyphs" stroke="#1b2a5c" stroke-width="0.33">12</text>
<rect x="473.13" y="789.25" width="20.61" height="13.75" fill="#9eb4c8" stroke="#7890aa" stroke-width="0.5"/>
<text x="482.44" y="799.00" font-size="10.2" font-weight="normal" fill="#1b2a5c" text-anchor="middle" textLength="8.5" lengthAdjust="spacingAndGlyphs" stroke="#1b2a5c" stroke-width="0.33">11</text>
<rect x="365.5" y="512.5" width="19.80" height="26.25" fill="#5ceedb" stroke="#3fb8aa" stroke-width="0.5"/>
<text x="375.40" y="529.44" font-size="10.6" font-weight="normal" fill="#1b2a5c" text-anchor="middle" textLength="5.3" lengthAdjust="spacingAndGlyphs" stroke="#1b2a5c" stroke-width="0.33">1</text>
<rect x="365.5" y="538.75" width="19.80" height="26.75" fill="#5ceedb" stroke="#3fb8aa" stroke-width="0.5"/>
<text x="375.40" y="555.94" font-size="10.6" font-weight="normal" fill="#1b2a5c" text-anchor="middle" textLength="5.3" lengthAdjust="spacingAndGlyphs" stroke="#1b2a5c" stroke-width="0.33">2</text>
<rect x="365.5" y="565.5" width="19.80" height="25.75" fill="#5ceedb" stroke="#3fb8aa" stroke-width="0.5"/>
<text x="375.40" y="582.19" font-size="10.6" font-weight="normal" fill="#1b2a5c" text-anchor="middle" textLength="5.3" lengthAdjust="spacingAndGlyphs" stroke="#1b2a5c" stroke-width="0.33">3</text>
<rect x="385.7" y="512.5" width="4.8" height="78.75" fill="#fff" stroke="#45557f" stroke-width="0.8"/>
<rect x="390.5" y="512.5" width="117" height="78.75" fill="#cbeff0" stroke="#45557f" stroke-width="0.7"/>
<rect x="385.6" y="592" width="5.8" height="4.8" fill="#dfe7ee" stroke="#8aa" stroke-width="0.4"/><path d="M385.6,592 l5.8,4.8 M391.4,592 l-5.8,4.8" stroke="#9ab" stroke-width="0.3"/>
<rect x="418.75" y="516.25" width="60.5" height="13" fill="#fff"/>
<text x="449.2" y="525.7" font-size="9.6" font-weight="bold" fill="#0c3c61" text-anchor="middle" textLength="51.5" lengthAdjust="spacingAndGlyphs" stroke="#0c3c61" stroke-width="0.3">SALÓN AGTECH</text>
<path d="M400.30,535.90h2.4v2.2h-2.4zM403.23,535.90h2.4v2.2h-2.4zM406.16,535.90h2.4v2.2h-2.4zM409.09,535.90h2.4v2.2h-2.4zM412.02,535.90h2.4v2.2h-2.4zM414.95,535.90h2.4v2.2h-2.4zM417.88,535.90h2.4v2.2h-2.4zM420.81,535.90h2.4v2.2h-2.4zM423.74,535.90h2.4v2.2h-2.4zM426.67,535.90h2.4v2.2h-2.4zM429.60,535.90h2.4v2.2h-2.4zM432.53,535.90h2.4v2.2h-2.4zM435.46,535.90h2.4v2.2h-2.4zM438.39,535.90h2.4v2.2h-2.4zM441.32,535.90h2.4v2.2h-2.4zM454.40,535.90h2.4v2.2h-2.4zM457.33,535.90h2.4v2.2h-2.4zM460.26,535.90h2.4v2.2h-2.4zM463.19,535.90h2.4v2.2h-2.4zM466.12,535.90h2.4v2.2h-2.4zM469.05,535.90h2.4v2.2h-2.4zM471.98,535.90h2.4v2.2h-2.4zM474.91,535.90h2.4v2.2h-2.4zM477.84,535.90h2.4v2.2h-2.4zM480.77,535.90h2.4v2.2h-2.4zM483.70,535.90h2.4v2.2h-2.4zM486.63,535.90h2.4v2.2h-2.4zM489.56,535.90h2.4v2.2h-2.4zM492.49,535.90h2.4v2.2h-2.4zM495.42,535.90h2.4v2.2h-2.4zM400.30,541.82h2.4v2.2h-2.4zM403.23,541.82h2.4v2.2h-2.4zM406.16,541.82h2.4v2.2h-2.4zM409.09,541.82h2.4v2.2h-2.4zM412.02,541.82h2.4v2.2h-2.4zM414.95,541.82h2.4v2.2h-2.4zM417.88,541.82h2.4v2.2h-2.4zM420.81,541.82h2.4v2.2h-2.4zM423.74,541.82h2.4v2.2h-2.4zM426.67,541.82h2.4v2.2h-2.4zM429.60,541.82h2.4v2.2h-2.4zM432.53,541.82h2.4v2.2h-2.4zM435.46,541.82h2.4v2.2h-2.4zM438.39,541.82h2.4v2.2h-2.4zM441.32,541.82h2.4v2.2h-2.4zM454.40,541.82h2.4v2.2h-2.4zM457.33,541.82h2.4v2.2h-2.4zM460.26,541.82h2.4v2.2h-2.4zM463.19,541.82h2.4v2.2h-2.4zM466.12,541.82h2.4v2.2h-2.4zM469.05,541.82h2.4v2.2h-2.4zM471.98,541.82h2.4v2.2h-2.4zM474.91,541.82h2.4v2.2h-2.4zM477.84,541.82h2.4v2.2h-2.4zM480.77,541.82h2.4v2.2h-2.4zM483.70,541.82h2.4v2.2h-2.4zM486.63,541.82h2.4v2.2h-2.4zM489.56,541.82h2.4v2.2h-2.4zM492.49,541.82h2.4v2.2h-2.4zM495.42,541.82h2.4v2.2h-2.4zM400.30,547.74h2.4v2.2h-2.4zM403.23,547.74h2.4v2.2h-2.4zM406.16,547.74h2.4v2.2h-2.4zM409.09,547.74h2.4v2.2h-2.4zM412.02,547.74h2.4v2.2h-2.4zM414.95,547.74h2.4v2.2h-2.4zM417.88,547.74h2.4v2.2h-2.4zM420.81,547.74h2.4v2.2h-2.4zM423.74,547.74h2.4v2.2h-2.4zM426.67,547.74h2.4v2.2h-2.4zM429.60,547.74h2.4v2.2h-2.4zM432.53,547.74h2.4v2.2h-2.4zM435.46,547.74h2.4v2.2h-2.4zM438.39,547.74h2.4v2.2h-2.4zM441.32,547.74h2.4v2.2h-2.4zM454.40,547.74h2.4v2.2h-2.4zM457.33,547.74h2.4v2.2h-2.4zM460.26,547.74h2.4v2.2h-2.4zM463.19,547.74h2.4v2.2h-2.4zM466.12,547.74h2.4v2.2h-2.4zM469.05,547.74h2.4v2.2h-2.4zM471.98,547.74h2.4v2.2h-2.4zM474.91,547.74h2.4v2.2h-2.4zM477.84,547.74h2.4v2.2h-2.4zM480.77,547.74h2.4v2.2h-2.4zM483.70,547.74h2.4v2.2h-2.4zM486.63,547.74h2.4v2.2h-2.4zM489.56,547.74h2.4v2.2h-2.4zM492.49,547.74h2.4v2.2h-2.4zM495.42,547.74h2.4v2.2h-2.4zM400.30,553.66h2.4v2.2h-2.4zM403.23,553.66h2.4v2.2h-2.4zM406.16,553.66h2.4v2.2h-2.4zM409.09,553.66h2.4v2.2h-2.4zM412.02,553.66h2.4v2.2h-2.4zM414.95,553.66h2.4v2.2h-2.4zM417.88,553.66h2.4v2.2h-2.4zM420.81,553.66h2.4v2.2h-2.4zM423.74,553.66h2.4v2.2h-2.4zM426.67,553.66h2.4v2.2h-2.4zM429.60,553.66h2.4v2.2h-2.4zM432.53,553.66h2.4v2.2h-2.4zM435.46,553.66h2.4v2.2h-2.4zM438.39,553.66h2.4v2.2h-2.4zM441.32,553.66h2.4v2.2h-2.4zM454.40,553.66h2.4v2.2h-2.4zM457.33,553.66h2.4v2.2h-2.4zM460.26,553.66h2.4v2.2h-2.4zM463.19,553.66h2.4v2.2h-2.4zM466.12,553.66h2.4v2.2h-2.4zM469.05,553.66h2.4v2.2h-2.4zM471.98,553.66h2.4v2.2h-2.4zM474.91,553.66h2.4v2.2h-2.4zM477.84,553.66h2.4v2.2h-2.4zM480.77,553.66h2.4v2.2h-2.4zM483.70,553.66h2.4v2.2h-2.4zM486.63,553.66h2.4v2.2h-2.4zM489.56,553.66h2.4v2.2h-2.4zM492.49,553.66h2.4v2.2h-2.4zM495.42,553.66h2.4v2.2h-2.4zM400.30,559.58h2.4v2.2h-2.4zM403.23,559.58h2.4v2.2h-2.4zM406.16,559.58h2.4v2.2h-2.4zM409.09,559.58h2.4v2.2h-2.4zM412.02,559.58h2.4v2.2h-2.4zM414.95,559.58h2.4v2.2h-2.4zM417.88,559.58h2.4v2.2h-2.4zM420.81,559.58h2.4v2.2h-2.4zM423.74,559.58h2.4v2.2h-2.4zM426.67,559.58h2.4v2.2h-2.4zM429.60,559.58h2.4v2.2h-2.4zM432.53,559.58h2.4v2.2h-2.4zM435.46,559.58h2.4v2.2h-2.4zM438.39,559.58h2.4v2.2h-2.4zM441.32,559.58h2.4v2.2h-2.4zM454.40,559.58h2.4v2.2h-2.4zM457.33,559.58h2.4v2.2h-2.4zM460.26,559.58h2.4v2.2h-2.4zM463.19,559.58h2.4v2.2h-2.4zM466.12,559.58h2.4v2.2h-2.4zM469.05,559.58h2.4v2.2h-2.4zM471.98,559.58h2.4v2.2h-2.4zM474.91,559.58h2.4v2.2h-2.4zM477.84,559.58h2.4v2.2h-2.4zM480.77,559.58h2.4v2.2h-2.4zM483.70,559.58h2.4v2.2h-2.4zM486.63,559.58h2.4v2.2h-2.4zM489.56,559.58h2.4v2.2h-2.4zM492.49,559.58h2.4v2.2h-2.4zM495.42,559.58h2.4v2.2h-2.4zM400.30,565.50h2.4v2.2h-2.4zM403.23,565.50h2.4v2.2h-2.4zM406.16,565.50h2.4v2.2h-2.4zM409.09,565.50h2.4v2.2h-2.4zM412.02,565.50h2.4v2.2h-2.4zM414.95,565.50h2.4v2.2h-2.4zM417.88,565.50h2.4v2.2h-2.4zM420.81,565.50h2.4v2.2h-2.4zM423.74,565.50h2.4v2.2h-2.4zM426.67,565.50h2.4v2.2h-2.4zM429.60,565.50h2.4v2.2h-2.4zM432.53,565.50h2.4v2.2h-2.4zM435.46,565.50h2.4v2.2h-2.4zM438.39,565.50h2.4v2.2h-2.4zM441.32,565.50h2.4v2.2h-2.4zM454.40,565.50h2.4v2.2h-2.4zM457.33,565.50h2.4v2.2h-2.4zM460.26,565.50h2.4v2.2h-2.4zM463.19,565.50h2.4v2.2h-2.4zM466.12,565.50h2.4v2.2h-2.4zM469.05,565.50h2.4v2.2h-2.4zM471.98,565.50h2.4v2.2h-2.4zM474.91,565.50h2.4v2.2h-2.4zM477.84,565.50h2.4v2.2h-2.4zM480.77,565.50h2.4v2.2h-2.4zM483.70,565.50h2.4v2.2h-2.4zM486.63,565.50h2.4v2.2h-2.4zM489.56,565.50h2.4v2.2h-2.4zM492.49,565.50h2.4v2.2h-2.4zM495.42,565.50h2.4v2.2h-2.4zM400.30,571.42h2.4v2.2h-2.4zM403.23,571.42h2.4v2.2h-2.4zM406.16,571.42h2.4v2.2h-2.4zM409.09,571.42h2.4v2.2h-2.4zM412.02,571.42h2.4v2.2h-2.4zM414.95,571.42h2.4v2.2h-2.4zM417.88,571.42h2.4v2.2h-2.4zM420.81,571.42h2.4v2.2h-2.4zM423.74,571.42h2.4v2.2h-2.4zM426.67,571.42h2.4v2.2h-2.4zM429.60,571.42h2.4v2.2h-2.4zM432.53,571.42h2.4v2.2h-2.4zM435.46,571.42h2.4v2.2h-2.4zM438.39,571.42h2.4v2.2h-2.4zM441.32,571.42h2.4v2.2h-2.4zM454.40,571.42h2.4v2.2h-2.4zM457.33,571.42h2.4v2.2h-2.4zM460.26,571.42h2.4v2.2h-2.4zM463.19,571.42h2.4v2.2h-2.4zM466.12,571.42h2.4v2.2h-2.4zM469.05,571.42h2.4v2.2h-2.4zM471.98,571.42h2.4v2.2h-2.4zM474.91,571.42h2.4v2.2h-2.4zM477.84,571.42h2.4v2.2h-2.4zM480.77,571.42h2.4v2.2h-2.4zM483.70,571.42h2.4v2.2h-2.4zM486.63,571.42h2.4v2.2h-2.4zM489.56,571.42h2.4v2.2h-2.4zM492.49,571.42h2.4v2.2h-2.4zM495.42,571.42h2.4v2.2h-2.4zM400.30,577.34h2.4v2.2h-2.4zM403.23,577.34h2.4v2.2h-2.4zM406.16,577.34h2.4v2.2h-2.4zM409.09,577.34h2.4v2.2h-2.4zM412.02,577.34h2.4v2.2h-2.4zM414.95,577.34h2.4v2.2h-2.4zM417.88,577.34h2.4v2.2h-2.4zM420.81,577.34h2.4v2.2h-2.4zM423.74,577.34h2.4v2.2h-2.4zM426.67,577.34h2.4v2.2h-2.4zM429.60,577.34h2.4v2.2h-2.4zM432.53,577.34h2.4v2.2h-2.4zM435.46,577.34h2.4v2.2h-2.4zM438.39,577.34h2.4v2.2h-2.4zM441.32,577.34h2.4v2.2h-2.4zM454.40,577.34h2.4v2.2h-2.4zM457.33,577.34h2.4v2.2h-2.4zM460.26,577.34h2.4v2.2h-2.4zM463.19,577.34h2.4v2.2h-2.4zM466.12,577.34h2.4v2.2h-2.4zM469.05,577.34h2.4v2.2h-2.4zM471.98,577.34h2.4v2.2h-2.4zM474.91,577.34h2.4v2.2h-2.4zM477.84,577.34h2.4v2.2h-2.4zM480.77,577.34h2.4v2.2h-2.4zM483.70,577.34h2.4v2.2h-2.4zM486.63,577.34h2.4v2.2h-2.4zM489.56,577.34h2.4v2.2h-2.4zM492.49,577.34h2.4v2.2h-2.4zM495.42,577.34h2.4v2.2h-2.4zM400.30,583.26h2.4v2.2h-2.4zM403.23,583.26h2.4v2.2h-2.4zM406.16,583.26h2.4v2.2h-2.4zM409.09,583.26h2.4v2.2h-2.4zM412.02,583.26h2.4v2.2h-2.4zM414.95,583.26h2.4v2.2h-2.4zM417.88,583.26h2.4v2.2h-2.4zM420.81,583.26h2.4v2.2h-2.4zM423.74,583.26h2.4v2.2h-2.4zM426.67,583.26h2.4v2.2h-2.4zM429.60,583.26h2.4v2.2h-2.4zM432.53,583.26h2.4v2.2h-2.4zM435.46,583.26h2.4v2.2h-2.4zM438.39,583.26h2.4v2.2h-2.4zM441.32,583.26h2.4v2.2h-2.4zM454.40,583.26h2.4v2.2h-2.4zM457.33,583.26h2.4v2.2h-2.4zM460.26,583.26h2.4v2.2h-2.4zM463.19,583.26h2.4v2.2h-2.4zM466.12,583.26h2.4v2.2h-2.4zM469.05,583.26h2.4v2.2h-2.4zM471.98,583.26h2.4v2.2h-2.4zM474.91,583.26h2.4v2.2h-2.4zM477.84,583.26h2.4v2.2h-2.4zM480.77,583.26h2.4v2.2h-2.4zM483.70,583.26h2.4v2.2h-2.4zM486.63,583.26h2.4v2.2h-2.4zM489.56,583.26h2.4v2.2h-2.4zM492.49,583.26h2.4v2.2h-2.4zM495.42,583.26h2.4v2.2h-2.4z" fill="#d8f3f4" stroke="#2f6088" stroke-width="0.45"/>
<rect x="296" y="486.8" width="69.3" height="20" fill="#03036d"/>
<text x="328" y="495.1" font-size="7.4" font-weight="bold" fill="#fff" text-anchor="middle" textLength="48.3" lengthAdjust="spacingAndGlyphs" stroke="#fff" stroke-width="0.25">ZONA DE TOTEM</text>
<text x="328.8" y="504" font-size="7.4" font-weight="bold" fill="#fff" text-anchor="middle" textLength="28" lengthAdjust="spacingAndGlyphs" stroke="#fff" stroke-width="0.25">DE CARGA</text>
<circle cx="363.0" cy="490.0" r="8.25" fill="#fff" stroke="#03036d" stroke-width="0.8"/>
<path transform="translate(363.0,490.0)" d="M-1.8,-5.3 L2.7,-5.3 L0.8,-1.1 L3.6,-1.1 L-3.0,6.5 L-0.6,0.6 L-3.5,0.1 Z" fill="#03036d"/>
<circle cx="310.8" cy="516.7" r="5.6" fill="#fff" stroke="#03036d" stroke-width="0.6"/>
<text x="310.8" y="519.7" font-size="8.6" font-weight="bold" fill="#03036d" text-anchor="middle" textLength="4.2" lengthAdjust="spacingAndGlyphs" stroke="#03036d" stroke-width="0.25">1</text>
<circle cx="323.8" cy="516.7" r="5.6" fill="#fff" stroke="#03036d" stroke-width="0.6"/>
<text x="323.8" y="519.7" font-size="8.6" font-weight="bold" fill="#03036d" text-anchor="middle" textLength="4.2" lengthAdjust="spacingAndGlyphs" stroke="#03036d" stroke-width="0.25">2</text>
<circle cx="336.8" cy="516.7" r="5.6" fill="#fff" stroke="#03036d" stroke-width="0.6"/>
<text x="336.8" y="519.7" font-size="8.6" font-weight="bold" fill="#03036d" text-anchor="middle" textLength="4.2" lengthAdjust="spacingAndGlyphs" stroke="#03036d" stroke-width="0.25">3</text>
<circle cx="349.9" cy="516.7" r="5.6" fill="#fff" stroke="#03036d" stroke-width="0.6"/>
<text x="349.9" y="519.7" font-size="8.6" font-weight="bold" fill="#03036d" text-anchor="middle" textLength="4.2" lengthAdjust="spacingAndGlyphs" stroke="#03036d" stroke-width="0.25">4</text>
<use href="#cof" transform="translate(324.7,568.8)"/>
<use href="#cof" transform="translate(386,691.9)"/>
<use href="#cof" transform="translate(325,767.2)"/>
<use href="#chk" transform="translate(365.3,578.4)"/>
<use href="#chk" transform="translate(282.1,644.4)"/>
<use href="#chk" transform="translate(386,632.7)"/>
<use href="#chk" transform="translate(385.75,674.5)"/>
<use href="#chk" transform="translate(341.8,683.6)"/>
<use href="#chk" transform="translate(341.8,704)"/>
<use href="#chk" transform="translate(438.8,703.8)"/>
<use href="#chk" transform="translate(492.5,616.7)"/>
<rect x="525" y="662" width="43" height="21" fill="#008f7c"/>
<rect x="525" y="703.75" width="43" height="20.149999999999977" fill="#5ceedb"/>
<rect x="525" y="745" width="43" height="20.5" fill="#feb80a"/>
<rect x="525" y="786.25" width="43" height="20.5" fill="#9eb4c8"/>
<text x="575" y="671.3" font-size="11.8" font-weight="bold" fill="#111" text-anchor="start" textLength="46.5" lengthAdjust="spacingAndGlyphs" stroke="#111" stroke-width="0.45">PLATINUM</text>
<text x="575" y="681.8" font-size="11.8" font-weight="bold" fill="#111" text-anchor="start" textLength="22.5" lengthAdjust="spacingAndGlyphs" stroke="#111" stroke-width="0.45">PLUS</text>
<text x="575" y="717.1" font-size="11.8" font-weight="bold" fill="#111" text-anchor="start" textLength="46.5" lengthAdjust="spacingAndGlyphs" stroke="#111" stroke-width="0.45">PLATINUM</text>
<text x="575" y="759.3" font-size="11.8" font-weight="bold" fill="#111" text-anchor="start" textLength="25" lengthAdjust="spacingAndGlyphs" stroke="#111" stroke-width="0.45">GOLD</text>
<text x="575" y="800.1" font-size="11.8" font-weight="bold" fill="#111" text-anchor="start" textLength="30.5" lengthAdjust="spacingAndGlyphs" stroke="#111" stroke-width="0.45">SILVER</text>
<rect x="68" y="855" width="154.5" height="41.75" fill="#cbeff0" stroke="#8fb3c0" stroke-width="0.7"/>
<text x="146.3" y="871.1" font-size="12.8" font-weight="bold" fill="#0c3c61" text-anchor="middle" textLength="97.5" lengthAdjust="spacingAndGlyphs" stroke="#0c3c61" stroke-width="0.35">COMEDOR BUFFET</text>
<text x="147.3" y="886.8" font-size="12.8" font-weight="bold" fill="#0c3c61" text-anchor="middle" textLength="60.5" lengthAdjust="spacingAndGlyphs" stroke="#0c3c61" stroke-width="0.35">ALMUERZO</text>
</svg>
</body></html>
